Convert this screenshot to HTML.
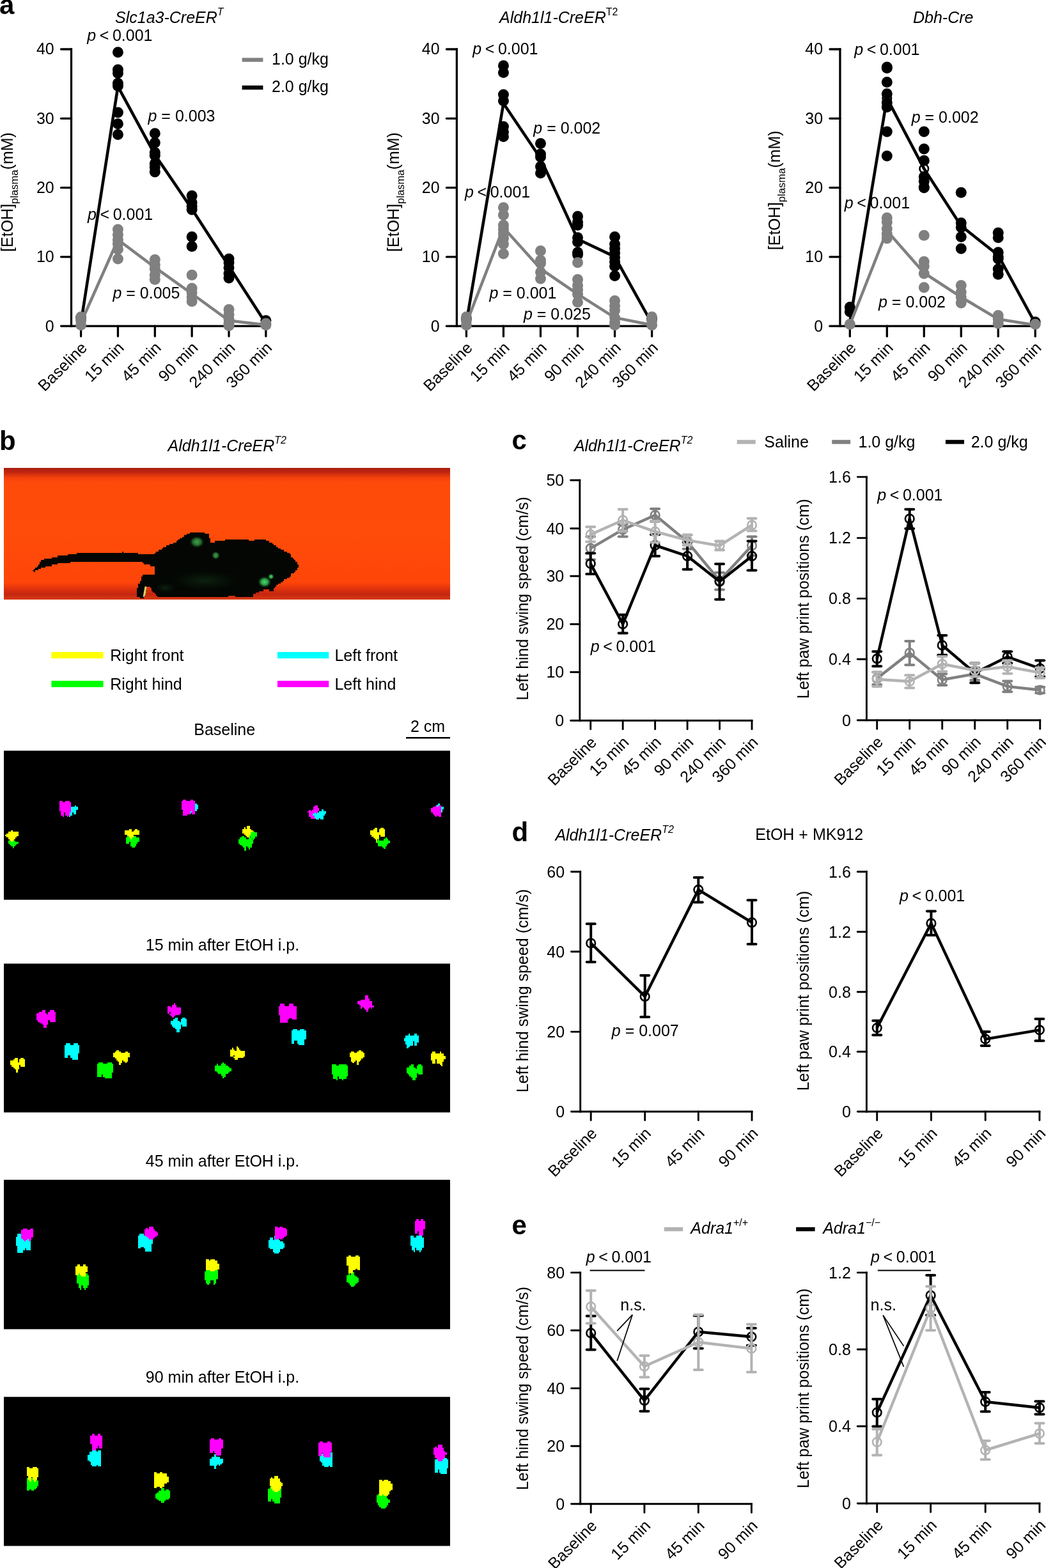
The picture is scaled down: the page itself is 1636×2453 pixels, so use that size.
<!DOCTYPE html>
<html lang="en"><head><meta charset="utf-8"><title>Figure</title>
<style>
html,body{margin:0;padding:0;background:#fff;}
svg{display:block;font-family:"Liberation Sans",sans-serif;}
</style></head><body>
<svg width="1636" height="2453" viewBox="0 0 1636 2453">
<rect width="1636" height="2453" fill="#fff"/>
<line x1="111.5" y1="75.35" x2="111.5" y2="511.75" stroke="#000" stroke-width="3.3" stroke-linecap="butt"/>
<line x1="111.5" y1="510.1" x2="417.5" y2="510.1" stroke="#000" stroke-width="3.3" stroke-linecap="butt"/>
<line x1="95.55" y1="77" x2="111.5" y2="77" stroke="#000" stroke-width="3.3" stroke-linecap="round"/>
<text x="84.7" y="85.4" font-size="25" text-anchor="end" fill="#000">40</text>
<line x1="95.55" y1="185.28" x2="111.5" y2="185.28" stroke="#000" stroke-width="3.3" stroke-linecap="round"/>
<text x="84.7" y="193.68" font-size="25" text-anchor="end" fill="#000">30</text>
<line x1="95.55" y1="293.55" x2="111.5" y2="293.55" stroke="#000" stroke-width="3.3" stroke-linecap="round"/>
<text x="84.7" y="301.95" font-size="25" text-anchor="end" fill="#000">20</text>
<line x1="95.55" y1="401.83" x2="111.5" y2="401.83" stroke="#000" stroke-width="3.3" stroke-linecap="round"/>
<text x="84.7" y="410.23" font-size="25" text-anchor="end" fill="#000">10</text>
<line x1="95.55" y1="510.1" x2="111.5" y2="510.1" stroke="#000" stroke-width="3.3" stroke-linecap="round"/>
<text x="84.7" y="518.5" font-size="25" text-anchor="end" fill="#000">0</text>
<line x1="126.6" y1="510.1" x2="126.6" y2="526.05" stroke="#000" stroke-width="3.3" stroke-linecap="round"/>
<text font-size="25" text-anchor="end" transform="translate(137.6,545.6) rotate(-45)" fill="#000">Baseline</text>
<line x1="184.45" y1="510.1" x2="184.45" y2="526.05" stroke="#000" stroke-width="3.3" stroke-linecap="round"/>
<text font-size="25" text-anchor="end" transform="translate(195.45,545.6) rotate(-45)" fill="#000">15 min</text>
<line x1="242.3" y1="510.1" x2="242.3" y2="526.05" stroke="#000" stroke-width="3.3" stroke-linecap="round"/>
<text font-size="25" text-anchor="end" transform="translate(253.3,545.6) rotate(-45)" fill="#000">45 min</text>
<line x1="300.15" y1="510.1" x2="300.15" y2="526.05" stroke="#000" stroke-width="3.3" stroke-linecap="round"/>
<text font-size="25" text-anchor="end" transform="translate(311.15,545.6) rotate(-45)" fill="#000">90 min</text>
<line x1="358" y1="510.1" x2="358" y2="526.05" stroke="#000" stroke-width="3.3" stroke-linecap="round"/>
<text font-size="25" text-anchor="end" transform="translate(369,545.6) rotate(-45)" fill="#000">240 min</text>
<line x1="415.85" y1="510.1" x2="415.85" y2="526.05" stroke="#000" stroke-width="3.3" stroke-linecap="round"/>
<text font-size="25" text-anchor="end" transform="translate(426.85,545.6) rotate(-45)" fill="#000">360 min</text>
<circle cx="126.6" cy="497" r="8.5" fill="#000" stroke="none" stroke-width="0"/>
<circle cx="184.45" cy="81.8" r="8.5" fill="#000" stroke="none" stroke-width="0"/>
<circle cx="184.45" cy="108.9" r="8.5" fill="#000" stroke="none" stroke-width="0"/>
<circle cx="184.45" cy="114.6" r="8.5" fill="#000" stroke="none" stroke-width="0"/>
<circle cx="184.45" cy="130.2" r="8.5" fill="#000" stroke="none" stroke-width="0"/>
<circle cx="184.45" cy="134.6" r="8.5" fill="#000" stroke="none" stroke-width="0"/>
<circle cx="184.45" cy="175.9" r="8.5" fill="#000" stroke="none" stroke-width="0"/>
<circle cx="184.45" cy="193.8" r="8.5" fill="#000" stroke="none" stroke-width="0"/>
<circle cx="184.45" cy="210.6" r="8.5" fill="#000" stroke="none" stroke-width="0"/>
<circle cx="242.3" cy="208.7" r="8.5" fill="#000" stroke="none" stroke-width="0"/>
<circle cx="242.3" cy="223.2" r="8.5" fill="#000" stroke="none" stroke-width="0"/>
<circle cx="242.3" cy="238.6" r="8.5" fill="#000" stroke="none" stroke-width="0"/>
<circle cx="242.3" cy="243.2" r="8.5" fill="#000" stroke="none" stroke-width="0"/>
<circle cx="242.3" cy="255.8" r="8.5" fill="#000" stroke="none" stroke-width="0"/>
<circle cx="242.3" cy="261.6" r="8.5" fill="#000" stroke="none" stroke-width="0"/>
<circle cx="242.3" cy="269.1" r="8.5" fill="#000" stroke="none" stroke-width="0"/>
<circle cx="300.15" cy="306.3" r="8.5" fill="#000" stroke="none" stroke-width="0"/>
<circle cx="300.15" cy="316.7" r="8.5" fill="#000" stroke="none" stroke-width="0"/>
<circle cx="300.15" cy="322.4" r="8.5" fill="#000" stroke="none" stroke-width="0"/>
<circle cx="300.15" cy="328.1" r="8.5" fill="#000" stroke="none" stroke-width="0"/>
<circle cx="300.15" cy="370.6" r="8.5" fill="#000" stroke="none" stroke-width="0"/>
<circle cx="300.15" cy="385.5" r="8.5" fill="#000" stroke="none" stroke-width="0"/>
<circle cx="358" cy="405" r="8.5" fill="#000" stroke="none" stroke-width="0"/>
<circle cx="358" cy="410.8" r="8.5" fill="#000" stroke="none" stroke-width="0"/>
<circle cx="358" cy="418.8" r="8.5" fill="#000" stroke="none" stroke-width="0"/>
<circle cx="358" cy="428" r="8.5" fill="#000" stroke="none" stroke-width="0"/>
<circle cx="358" cy="434.9" r="8.5" fill="#000" stroke="none" stroke-width="0"/>
<circle cx="415.85" cy="501.5" r="8.5" fill="#000" stroke="none" stroke-width="0"/>
<polyline points="126.6,505 184.45,135.3 242.3,242 300.15,327 358,416.5 415.85,506" fill="none" stroke="#000" stroke-width="4.6" stroke-linejoin="miter" stroke-linecap="butt"/>
<circle cx="126.6" cy="495.7" r="8.5" fill="#808080" stroke="none" stroke-width="0"/>
<circle cx="126.6" cy="501.5" r="8.5" fill="#808080" stroke="none" stroke-width="0"/>
<circle cx="126.6" cy="508.4" r="8.5" fill="#808080" stroke="none" stroke-width="0"/>
<circle cx="184.45" cy="359.1" r="8.5" fill="#808080" stroke="none" stroke-width="0"/>
<circle cx="184.45" cy="367.2" r="8.5" fill="#808080" stroke="none" stroke-width="0"/>
<circle cx="184.45" cy="375.2" r="8.5" fill="#808080" stroke="none" stroke-width="0"/>
<circle cx="184.45" cy="382.1" r="8.5" fill="#808080" stroke="none" stroke-width="0"/>
<circle cx="184.45" cy="390.1" r="8.5" fill="#808080" stroke="none" stroke-width="0"/>
<circle cx="184.45" cy="405" r="8.5" fill="#808080" stroke="none" stroke-width="0"/>
<circle cx="242.3" cy="406.2" r="8.5" fill="#808080" stroke="none" stroke-width="0"/>
<circle cx="242.3" cy="414.2" r="8.5" fill="#808080" stroke="none" stroke-width="0"/>
<circle cx="242.3" cy="421.1" r="8.5" fill="#808080" stroke="none" stroke-width="0"/>
<circle cx="242.3" cy="430.3" r="8.5" fill="#808080" stroke="none" stroke-width="0"/>
<circle cx="242.3" cy="437.2" r="8.5" fill="#808080" stroke="none" stroke-width="0"/>
<circle cx="300.15" cy="430.3" r="8.5" fill="#808080" stroke="none" stroke-width="0"/>
<circle cx="300.15" cy="451" r="8.5" fill="#808080" stroke="none" stroke-width="0"/>
<circle cx="300.15" cy="457.8" r="8.5" fill="#808080" stroke="none" stroke-width="0"/>
<circle cx="300.15" cy="464.7" r="8.5" fill="#808080" stroke="none" stroke-width="0"/>
<circle cx="300.15" cy="471.6" r="8.5" fill="#808080" stroke="none" stroke-width="0"/>
<circle cx="358" cy="484.3" r="8.5" fill="#808080" stroke="none" stroke-width="0"/>
<circle cx="358" cy="492.3" r="8.5" fill="#808080" stroke="none" stroke-width="0"/>
<circle cx="358" cy="499.2" r="8.5" fill="#808080" stroke="none" stroke-width="0"/>
<circle cx="358" cy="506.1" r="8.5" fill="#808080" stroke="none" stroke-width="0"/>
<circle cx="358" cy="509.5" r="8.5" fill="#808080" stroke="none" stroke-width="0"/>
<circle cx="415.85" cy="506" r="8.5" fill="#808080" stroke="none" stroke-width="0"/>
<circle cx="415.85" cy="508.4" r="8.5" fill="#808080" stroke="none" stroke-width="0"/>
<polyline points="126.6,505 184.45,375 242.3,418.3 300.15,459.5 358,501.5 415.85,508.4" fill="none" stroke="#808080" stroke-width="4.6" stroke-linejoin="miter" stroke-linecap="butt"/>
<text x="136.2" y="64.1" font-size="25" fill="#000"><tspan font-style="italic">p</tspan><tspan dx="5.6">&lt;</tspan><tspan dx="5.6">0.001</tspan></text>
<text x="231.5" y="190.3" font-size="25" fill="#000"><tspan font-style="italic">p</tspan> = 0.003</text>
<text x="137" y="344.1" font-size="25" fill="#000"><tspan font-style="italic">p</tspan><tspan dx="5.6">&lt;</tspan><tspan dx="5.6">0.001</tspan></text>
<text x="176.4" y="467" font-size="25" fill="#000"><tspan font-style="italic">p</tspan> = 0.005</text>
<text x="180" y="35.7" font-size="25" font-style="italic" fill="#000">Slc1a3-CreER<tspan font-size="16" dy="-12">T</tspan></text>
<line x1="378.6" y1="93.6" x2="411.4" y2="93.6" stroke="#808080" stroke-width="6.4" stroke-linecap="butt"/>
<text x="425" y="100.9" font-size="25" fill="#000">1.0 g/kg</text>
<line x1="378.6" y1="137" x2="411.4" y2="137" stroke="#000" stroke-width="6.4" stroke-linecap="butt"/>
<text x="425" y="144.4" font-size="25" fill="#000">2.0 g/kg</text>
<text font-size="25" text-anchor="middle" transform="translate(20.3,300.5) rotate(-90)" fill="#000">[EtOH]<tspan font-size="16.6" dy="8">plasma</tspan><tspan dy="-8">(mM)</tspan></text>
<text x="-1" y="22" font-size="42" font-weight="bold" fill="#000">a</text>
<line x1="714.4" y1="75.35" x2="714.4" y2="511.85" stroke="#000" stroke-width="3.3" stroke-linecap="butt"/>
<line x1="714.4" y1="510.2" x2="1021.25" y2="510.2" stroke="#000" stroke-width="3.3" stroke-linecap="butt"/>
<line x1="698.45" y1="77" x2="714.4" y2="77" stroke="#000" stroke-width="3.3" stroke-linecap="round"/>
<text x="687.6" y="85.4" font-size="25" text-anchor="end" fill="#000">40</text>
<line x1="698.45" y1="185.3" x2="714.4" y2="185.3" stroke="#000" stroke-width="3.3" stroke-linecap="round"/>
<text x="687.6" y="193.7" font-size="25" text-anchor="end" fill="#000">30</text>
<line x1="698.45" y1="293.6" x2="714.4" y2="293.6" stroke="#000" stroke-width="3.3" stroke-linecap="round"/>
<text x="687.6" y="302" font-size="25" text-anchor="end" fill="#000">20</text>
<line x1="698.45" y1="401.9" x2="714.4" y2="401.9" stroke="#000" stroke-width="3.3" stroke-linecap="round"/>
<text x="687.6" y="410.3" font-size="25" text-anchor="end" fill="#000">10</text>
<line x1="698.45" y1="510.2" x2="714.4" y2="510.2" stroke="#000" stroke-width="3.3" stroke-linecap="round"/>
<text x="687.6" y="518.6" font-size="25" text-anchor="end" fill="#000">0</text>
<line x1="729.4" y1="510.2" x2="729.4" y2="526.15" stroke="#000" stroke-width="3.3" stroke-linecap="round"/>
<text font-size="25" text-anchor="end" transform="translate(740.4,545.7) rotate(-45)" fill="#000">Baseline</text>
<line x1="787.44" y1="510.2" x2="787.44" y2="526.15" stroke="#000" stroke-width="3.3" stroke-linecap="round"/>
<text font-size="25" text-anchor="end" transform="translate(798.44,545.7) rotate(-45)" fill="#000">15 min</text>
<line x1="845.48" y1="510.2" x2="845.48" y2="526.15" stroke="#000" stroke-width="3.3" stroke-linecap="round"/>
<text font-size="25" text-anchor="end" transform="translate(856.48,545.7) rotate(-45)" fill="#000">45 min</text>
<line x1="903.52" y1="510.2" x2="903.52" y2="526.15" stroke="#000" stroke-width="3.3" stroke-linecap="round"/>
<text font-size="25" text-anchor="end" transform="translate(914.52,545.7) rotate(-45)" fill="#000">90 min</text>
<line x1="961.56" y1="510.2" x2="961.56" y2="526.15" stroke="#000" stroke-width="3.3" stroke-linecap="round"/>
<text font-size="25" text-anchor="end" transform="translate(972.56,545.7) rotate(-45)" fill="#000">240 min</text>
<line x1="1019.6" y1="510.2" x2="1019.6" y2="526.15" stroke="#000" stroke-width="3.3" stroke-linecap="round"/>
<text font-size="25" text-anchor="end" transform="translate(1030.6,545.7) rotate(-45)" fill="#000">360 min</text>
<circle cx="729.4" cy="499" r="8.5" fill="#000" stroke="none" stroke-width="0"/>
<circle cx="787.44" cy="102.7" r="8.5" fill="#000" stroke="none" stroke-width="0"/>
<circle cx="787.44" cy="113.5" r="8.5" fill="#000" stroke="none" stroke-width="0"/>
<circle cx="787.44" cy="147.9" r="8.5" fill="#000" stroke="none" stroke-width="0"/>
<circle cx="787.44" cy="157.8" r="8.5" fill="#000" stroke="none" stroke-width="0"/>
<circle cx="787.44" cy="198" r="8.5" fill="#000" stroke="none" stroke-width="0"/>
<circle cx="787.44" cy="206.5" r="8.5" fill="#000" stroke="none" stroke-width="0"/>
<circle cx="787.44" cy="213.8" r="8.5" fill="#000" stroke="none" stroke-width="0"/>
<circle cx="845.48" cy="224.4" r="8.5" fill="#000" stroke="none" stroke-width="0"/>
<circle cx="845.48" cy="240.9" r="8.5" fill="#000" stroke="none" stroke-width="0"/>
<circle cx="845.48" cy="245.5" r="8.5" fill="#000" stroke="none" stroke-width="0"/>
<circle cx="845.48" cy="260.4" r="8.5" fill="#000" stroke="none" stroke-width="0"/>
<circle cx="845.48" cy="270.7" r="8.5" fill="#000" stroke="none" stroke-width="0"/>
<circle cx="903.52" cy="338.5" r="8.5" fill="#000" stroke="none" stroke-width="0"/>
<circle cx="903.52" cy="347.6" r="8.5" fill="#000" stroke="none" stroke-width="0"/>
<circle cx="903.52" cy="352.2" r="8.5" fill="#000" stroke="none" stroke-width="0"/>
<circle cx="903.52" cy="371.8" r="8.5" fill="#000" stroke="none" stroke-width="0"/>
<circle cx="903.52" cy="378.6" r="8.5" fill="#000" stroke="none" stroke-width="0"/>
<circle cx="903.52" cy="394.7" r="8.5" fill="#000" stroke="none" stroke-width="0"/>
<circle cx="903.52" cy="398.2" r="8.5" fill="#000" stroke="none" stroke-width="0"/>
<circle cx="961.56" cy="370.6" r="8.5" fill="#000" stroke="none" stroke-width="0"/>
<circle cx="961.56" cy="382.1" r="8.5" fill="#000" stroke="none" stroke-width="0"/>
<circle cx="961.56" cy="389" r="8.5" fill="#000" stroke="none" stroke-width="0"/>
<circle cx="961.56" cy="395.9" r="8.5" fill="#000" stroke="none" stroke-width="0"/>
<circle cx="961.56" cy="402.8" r="8.5" fill="#000" stroke="none" stroke-width="0"/>
<circle cx="961.56" cy="409.6" r="8.5" fill="#000" stroke="none" stroke-width="0"/>
<circle cx="961.56" cy="416.5" r="8.5" fill="#000" stroke="none" stroke-width="0"/>
<circle cx="961.56" cy="431.5" r="8.5" fill="#000" stroke="none" stroke-width="0"/>
<circle cx="1019.6" cy="499" r="8.5" fill="#000" stroke="none" stroke-width="0"/>
<polyline points="729.4,505 787.44,161.7 845.48,247.8 903.52,374 961.56,401.6 1019.6,506" fill="none" stroke="#000" stroke-width="4.6" stroke-linejoin="miter" stroke-linecap="butt"/>
<circle cx="729.4" cy="495.7" r="8.5" fill="#808080" stroke="none" stroke-width="0"/>
<circle cx="729.4" cy="501.5" r="8.5" fill="#808080" stroke="none" stroke-width="0"/>
<circle cx="729.4" cy="508.4" r="8.5" fill="#808080" stroke="none" stroke-width="0"/>
<circle cx="787.44" cy="324.7" r="8.5" fill="#808080" stroke="none" stroke-width="0"/>
<circle cx="787.44" cy="336.2" r="8.5" fill="#808080" stroke="none" stroke-width="0"/>
<circle cx="787.44" cy="352.2" r="8.5" fill="#808080" stroke="none" stroke-width="0"/>
<circle cx="787.44" cy="359.1" r="8.5" fill="#808080" stroke="none" stroke-width="0"/>
<circle cx="787.44" cy="366" r="8.5" fill="#808080" stroke="none" stroke-width="0"/>
<circle cx="787.44" cy="372.9" r="8.5" fill="#808080" stroke="none" stroke-width="0"/>
<circle cx="787.44" cy="382.1" r="8.5" fill="#808080" stroke="none" stroke-width="0"/>
<circle cx="787.44" cy="397" r="8.5" fill="#808080" stroke="none" stroke-width="0"/>
<circle cx="845.48" cy="392.4" r="8.5" fill="#808080" stroke="none" stroke-width="0"/>
<circle cx="845.48" cy="407.3" r="8.5" fill="#808080" stroke="none" stroke-width="0"/>
<circle cx="845.48" cy="411.9" r="8.5" fill="#808080" stroke="none" stroke-width="0"/>
<circle cx="845.48" cy="425.7" r="8.5" fill="#808080" stroke="none" stroke-width="0"/>
<circle cx="845.48" cy="436" r="8.5" fill="#808080" stroke="none" stroke-width="0"/>
<circle cx="903.52" cy="410.8" r="8.5" fill="#808080" stroke="none" stroke-width="0"/>
<circle cx="903.52" cy="437.2" r="8.5" fill="#808080" stroke="none" stroke-width="0"/>
<circle cx="903.52" cy="446.4" r="8.5" fill="#808080" stroke="none" stroke-width="0"/>
<circle cx="903.52" cy="453.3" r="8.5" fill="#808080" stroke="none" stroke-width="0"/>
<circle cx="903.52" cy="460.2" r="8.5" fill="#808080" stroke="none" stroke-width="0"/>
<circle cx="903.52" cy="472.8" r="8.5" fill="#808080" stroke="none" stroke-width="0"/>
<circle cx="961.56" cy="470.5" r="8.5" fill="#808080" stroke="none" stroke-width="0"/>
<circle cx="961.56" cy="478.5" r="8.5" fill="#808080" stroke="none" stroke-width="0"/>
<circle cx="961.56" cy="485.4" r="8.5" fill="#808080" stroke="none" stroke-width="0"/>
<circle cx="961.56" cy="496.9" r="8.5" fill="#808080" stroke="none" stroke-width="0"/>
<circle cx="961.56" cy="503.8" r="8.5" fill="#808080" stroke="none" stroke-width="0"/>
<circle cx="961.56" cy="508.4" r="8.5" fill="#808080" stroke="none" stroke-width="0"/>
<circle cx="1019.6" cy="495.7" r="8.5" fill="#808080" stroke="none" stroke-width="0"/>
<circle cx="1019.6" cy="501.5" r="8.5" fill="#808080" stroke="none" stroke-width="0"/>
<circle cx="1019.6" cy="508.4" r="8.5" fill="#808080" stroke="none" stroke-width="0"/>
<polyline points="729.4,506 787.44,356 845.48,420.5 903.52,460.2 961.56,496.9 1019.6,508.4" fill="none" stroke="#808080" stroke-width="4.6" stroke-linejoin="miter" stroke-linecap="butt"/>
<text x="739.2" y="84.7" font-size="25" fill="#000"><tspan font-style="italic">p</tspan><tspan dx="5.6">&lt;</tspan><tspan dx="5.6">0.001</tspan></text>
<text x="834.3" y="208.7" font-size="25" fill="#000"><tspan font-style="italic">p</tspan> = 0.002</text>
<text x="727" y="308.6" font-size="25" fill="#000"><tspan font-style="italic">p</tspan><tspan dx="5.6">&lt;</tspan><tspan dx="5.6">0.001</tspan></text>
<text x="765.4" y="467" font-size="25" fill="#000"><tspan font-style="italic">p</tspan> = 0.001</text>
<text x="818.9" y="500.3" font-size="25" fill="#000"><tspan font-style="italic">p</tspan> = 0.025</text>
<text x="781" y="35.7" font-size="25" font-style="italic" fill="#000">Aldh1l1-CreER<tspan font-size="16" dy="-12" font-style="normal">T2</tspan></text>
<text font-size="25" text-anchor="middle" transform="translate(624,300.5) rotate(-90)" fill="#000">[EtOH]<tspan font-size="16.6" dy="8">plasma</tspan><tspan dy="-8">(mM)</tspan></text>
<line x1="1313.9" y1="75.35" x2="1313.9" y2="511.85" stroke="#000" stroke-width="3.3" stroke-linecap="butt"/>
<line x1="1313.9" y1="510.2" x2="1620.85" y2="510.2" stroke="#000" stroke-width="3.3" stroke-linecap="butt"/>
<line x1="1297.95" y1="77" x2="1313.9" y2="77" stroke="#000" stroke-width="3.3" stroke-linecap="round"/>
<text x="1287.1" y="85.4" font-size="25" text-anchor="end" fill="#000">40</text>
<line x1="1297.95" y1="185.3" x2="1313.9" y2="185.3" stroke="#000" stroke-width="3.3" stroke-linecap="round"/>
<text x="1287.1" y="193.7" font-size="25" text-anchor="end" fill="#000">30</text>
<line x1="1297.95" y1="293.6" x2="1313.9" y2="293.6" stroke="#000" stroke-width="3.3" stroke-linecap="round"/>
<text x="1287.1" y="302" font-size="25" text-anchor="end" fill="#000">20</text>
<line x1="1297.95" y1="401.9" x2="1313.9" y2="401.9" stroke="#000" stroke-width="3.3" stroke-linecap="round"/>
<text x="1287.1" y="410.3" font-size="25" text-anchor="end" fill="#000">10</text>
<line x1="1297.95" y1="510.2" x2="1313.9" y2="510.2" stroke="#000" stroke-width="3.3" stroke-linecap="round"/>
<text x="1287.1" y="518.6" font-size="25" text-anchor="end" fill="#000">0</text>
<line x1="1329.3" y1="510.2" x2="1329.3" y2="526.15" stroke="#000" stroke-width="3.3" stroke-linecap="round"/>
<text font-size="25" text-anchor="end" transform="translate(1340.3,545.7) rotate(-45)" fill="#000">Baseline</text>
<line x1="1387.28" y1="510.2" x2="1387.28" y2="526.15" stroke="#000" stroke-width="3.3" stroke-linecap="round"/>
<text font-size="25" text-anchor="end" transform="translate(1398.28,545.7) rotate(-45)" fill="#000">15 min</text>
<line x1="1445.26" y1="510.2" x2="1445.26" y2="526.15" stroke="#000" stroke-width="3.3" stroke-linecap="round"/>
<text font-size="25" text-anchor="end" transform="translate(1456.26,545.7) rotate(-45)" fill="#000">45 min</text>
<line x1="1503.24" y1="510.2" x2="1503.24" y2="526.15" stroke="#000" stroke-width="3.3" stroke-linecap="round"/>
<text font-size="25" text-anchor="end" transform="translate(1514.24,545.7) rotate(-45)" fill="#000">90 min</text>
<line x1="1561.22" y1="510.2" x2="1561.22" y2="526.15" stroke="#000" stroke-width="3.3" stroke-linecap="round"/>
<text font-size="25" text-anchor="end" transform="translate(1572.22,545.7) rotate(-45)" fill="#000">240 min</text>
<line x1="1619.2" y1="510.2" x2="1619.2" y2="526.15" stroke="#000" stroke-width="3.3" stroke-linecap="round"/>
<text font-size="25" text-anchor="end" transform="translate(1630.2,545.7) rotate(-45)" fill="#000">360 min</text>
<circle cx="1387.28" cy="153.6" r="6.8" fill="#fff" stroke="#000" stroke-width="2.6"/>
<circle cx="1445.26" cy="263.9" r="6.8" fill="#fff" stroke="#000" stroke-width="2.6"/>
<circle cx="1329.3" cy="480.4" r="8.5" fill="#000" stroke="none" stroke-width="0"/>
<circle cx="1329.3" cy="487.7" r="8.5" fill="#000" stroke="none" stroke-width="0"/>
<circle cx="1387.28" cy="105" r="8.5" fill="#000" stroke="none" stroke-width="0"/>
<circle cx="1387.28" cy="106.6" r="8.5" fill="#000" stroke="none" stroke-width="0"/>
<circle cx="1387.28" cy="128.4" r="8.5" fill="#000" stroke="none" stroke-width="0"/>
<circle cx="1387.28" cy="146.8" r="8.5" fill="#000" stroke="none" stroke-width="0"/>
<circle cx="1387.28" cy="160.5" r="8.5" fill="#000" stroke="none" stroke-width="0"/>
<circle cx="1387.28" cy="167.4" r="8.5" fill="#000" stroke="none" stroke-width="0"/>
<circle cx="1387.28" cy="206" r="8.5" fill="#000" stroke="none" stroke-width="0"/>
<circle cx="1387.28" cy="243.9" r="8.5" fill="#000" stroke="none" stroke-width="0"/>
<circle cx="1445.26" cy="206" r="8.5" fill="#000" stroke="none" stroke-width="0"/>
<circle cx="1445.26" cy="232.9" r="8.5" fill="#000" stroke="none" stroke-width="0"/>
<circle cx="1445.26" cy="251.2" r="8.5" fill="#000" stroke="none" stroke-width="0"/>
<circle cx="1445.26" cy="276.5" r="8.5" fill="#000" stroke="none" stroke-width="0"/>
<circle cx="1445.26" cy="283.4" r="8.5" fill="#000" stroke="none" stroke-width="0"/>
<circle cx="1445.26" cy="292.5" r="8.5" fill="#000" stroke="none" stroke-width="0"/>
<circle cx="1445.26" cy="293.7" r="8.5" fill="#000" stroke="none" stroke-width="0"/>
<circle cx="1503.24" cy="301.3" r="8.5" fill="#000" stroke="none" stroke-width="0"/>
<circle cx="1503.24" cy="348.8" r="8.5" fill="#000" stroke="none" stroke-width="0"/>
<circle cx="1503.24" cy="355.7" r="8.5" fill="#000" stroke="none" stroke-width="0"/>
<circle cx="1503.24" cy="370.6" r="8.5" fill="#000" stroke="none" stroke-width="0"/>
<circle cx="1503.24" cy="389" r="8.5" fill="#000" stroke="none" stroke-width="0"/>
<circle cx="1561.22" cy="364.2" r="8.5" fill="#000" stroke="none" stroke-width="0"/>
<circle cx="1561.22" cy="371.8" r="8.5" fill="#000" stroke="none" stroke-width="0"/>
<circle cx="1561.22" cy="394.7" r="8.5" fill="#000" stroke="none" stroke-width="0"/>
<circle cx="1561.22" cy="401.6" r="8.5" fill="#000" stroke="none" stroke-width="0"/>
<circle cx="1561.22" cy="405" r="8.5" fill="#000" stroke="none" stroke-width="0"/>
<circle cx="1561.22" cy="421.1" r="8.5" fill="#000" stroke="none" stroke-width="0"/>
<circle cx="1561.22" cy="429.2" r="8.5" fill="#000" stroke="none" stroke-width="0"/>
<circle cx="1619.2" cy="503.8" r="8.5" fill="#000" stroke="none" stroke-width="0"/>
<polyline points="1329.3,503 1387.28,153.6 1445.26,263.9 1503.24,353.4 1561.22,399.3 1619.2,506" fill="none" stroke="#000" stroke-width="4.6" stroke-linejoin="miter" stroke-linecap="butt"/>
<circle cx="1329.3" cy="507.2" r="8.5" fill="#808080" stroke="none" stroke-width="0"/>
<circle cx="1387.28" cy="340.8" r="8.5" fill="#808080" stroke="none" stroke-width="0"/>
<circle cx="1387.28" cy="347.6" r="8.5" fill="#808080" stroke="none" stroke-width="0"/>
<circle cx="1387.28" cy="358" r="8.5" fill="#808080" stroke="none" stroke-width="0"/>
<circle cx="1387.28" cy="366" r="8.5" fill="#808080" stroke="none" stroke-width="0"/>
<circle cx="1387.28" cy="372.9" r="8.5" fill="#808080" stroke="none" stroke-width="0"/>
<circle cx="1445.26" cy="368.3" r="8.5" fill="#808080" stroke="none" stroke-width="0"/>
<circle cx="1445.26" cy="409.2" r="8.5" fill="#808080" stroke="none" stroke-width="0"/>
<circle cx="1445.26" cy="416.5" r="8.5" fill="#808080" stroke="none" stroke-width="0"/>
<circle cx="1445.26" cy="428" r="8.5" fill="#808080" stroke="none" stroke-width="0"/>
<circle cx="1445.26" cy="449.8" r="8.5" fill="#808080" stroke="none" stroke-width="0"/>
<circle cx="1503.24" cy="446.4" r="8.5" fill="#808080" stroke="none" stroke-width="0"/>
<circle cx="1503.24" cy="456.7" r="8.5" fill="#808080" stroke="none" stroke-width="0"/>
<circle cx="1503.24" cy="464.7" r="8.5" fill="#808080" stroke="none" stroke-width="0"/>
<circle cx="1503.24" cy="473.9" r="8.5" fill="#808080" stroke="none" stroke-width="0"/>
<circle cx="1561.22" cy="493.4" r="8.5" fill="#808080" stroke="none" stroke-width="0"/>
<circle cx="1561.22" cy="499.2" r="8.5" fill="#808080" stroke="none" stroke-width="0"/>
<circle cx="1561.22" cy="506.1" r="8.5" fill="#808080" stroke="none" stroke-width="0"/>
<circle cx="1619.2" cy="507.2" r="8.5" fill="#808080" stroke="none" stroke-width="0"/>
<polyline points="1329.3,508 1387.28,361 1445.26,427 1503.24,464.7 1561.22,499.2 1619.2,508.4" fill="none" stroke="#808080" stroke-width="4.6" stroke-linejoin="miter" stroke-linecap="butt"/>
<text x="1336.2" y="85.9" font-size="25" fill="#000"><tspan font-style="italic">p</tspan><tspan dx="5.6">&lt;</tspan><tspan dx="5.6">0.001</tspan></text>
<text x="1425.7" y="191.5" font-size="25" fill="#000"><tspan font-style="italic">p</tspan> = 0.002</text>
<text x="1320.8" y="325.8" font-size="25" fill="#000"><tspan font-style="italic">p</tspan><tspan dx="5.6">&lt;</tspan><tspan dx="5.6">0.001</tspan></text>
<text x="1374" y="480.8" font-size="25" fill="#000"><tspan font-style="italic">p</tspan> = 0.002</text>
<text x="1428" y="35.7" font-size="25" font-style="italic" fill="#000">Dbh-Cre</text>
<text font-size="25" text-anchor="middle" transform="translate(1219.8,297.8) rotate(-90)" fill="#000">[EtOH]<tspan font-size="16.6" dy="8">plasma</tspan><tspan dy="-8">(mM)</tspan></text>
<line x1="906.8" y1="749.75" x2="906.8" y2="1128.65" stroke="#000" stroke-width="2.9" stroke-linecap="butt"/>
<line x1="906.8" y1="1127.2" x2="1177.45" y2="1127.2" stroke="#000" stroke-width="2.9" stroke-linecap="butt"/>
<line x1="892.65" y1="751.2" x2="906.8" y2="751.2" stroke="#000" stroke-width="2.9" stroke-linecap="round"/>
<text x="882.2" y="760" font-size="25" text-anchor="end" fill="#000">50</text>
<line x1="892.65" y1="826.7" x2="906.8" y2="826.7" stroke="#000" stroke-width="2.9" stroke-linecap="round"/>
<text x="882.2" y="835.5" font-size="25" text-anchor="end" fill="#000">40</text>
<line x1="892.65" y1="901.3" x2="906.8" y2="901.3" stroke="#000" stroke-width="2.9" stroke-linecap="round"/>
<text x="882.2" y="910.1" font-size="25" text-anchor="end" fill="#000">30</text>
<line x1="892.65" y1="976.5" x2="906.8" y2="976.5" stroke="#000" stroke-width="2.9" stroke-linecap="round"/>
<text x="882.2" y="985.3" font-size="25" text-anchor="end" fill="#000">20</text>
<line x1="892.65" y1="1051.5" x2="906.8" y2="1051.5" stroke="#000" stroke-width="2.9" stroke-linecap="round"/>
<text x="882.2" y="1060.3" font-size="25" text-anchor="end" fill="#000">10</text>
<line x1="892.65" y1="1127.2" x2="906.8" y2="1127.2" stroke="#000" stroke-width="2.9" stroke-linecap="round"/>
<text x="882.2" y="1136" font-size="25" text-anchor="end" fill="#000">0</text>
<line x1="923.7" y1="1127.2" x2="923.7" y2="1140.75" stroke="#000" stroke-width="2.9" stroke-linecap="round"/>
<text font-size="25" text-anchor="end" transform="translate(934.7,1162.8) rotate(-45)" fill="#000">Baseline</text>
<line x1="974.16" y1="1127.2" x2="974.16" y2="1140.75" stroke="#000" stroke-width="2.9" stroke-linecap="round"/>
<text font-size="25" text-anchor="end" transform="translate(985.16,1162.8) rotate(-45)" fill="#000">15 min</text>
<line x1="1024.62" y1="1127.2" x2="1024.62" y2="1140.75" stroke="#000" stroke-width="2.9" stroke-linecap="round"/>
<text font-size="25" text-anchor="end" transform="translate(1035.62,1162.8) rotate(-45)" fill="#000">45 min</text>
<line x1="1075.08" y1="1127.2" x2="1075.08" y2="1140.75" stroke="#000" stroke-width="2.9" stroke-linecap="round"/>
<text font-size="25" text-anchor="end" transform="translate(1086.08,1162.8) rotate(-45)" fill="#000">90 min</text>
<line x1="1125.54" y1="1127.2" x2="1125.54" y2="1140.75" stroke="#000" stroke-width="2.9" stroke-linecap="round"/>
<text font-size="25" text-anchor="end" transform="translate(1136.54,1162.8) rotate(-45)" fill="#000">240 min</text>
<line x1="1176" y1="1127.2" x2="1176" y2="1140.75" stroke="#000" stroke-width="2.9" stroke-linecap="round"/>
<text font-size="25" text-anchor="end" transform="translate(1187,1162.8) rotate(-45)" fill="#000">360 min</text>
<line x1="923.7" y1="839.6" x2="923.7" y2="875.5" stroke="#808080" stroke-width="4" stroke-linecap="butt"/>
<line x1="917.2" y1="839.6" x2="930.2" y2="839.6" stroke="#808080" stroke-width="4" stroke-linecap="round"/>
<line x1="917.2" y1="875.5" x2="930.2" y2="875.5" stroke="#808080" stroke-width="4" stroke-linecap="round"/>
<line x1="974.16" y1="820.5" x2="974.16" y2="839.6" stroke="#808080" stroke-width="4" stroke-linecap="butt"/>
<line x1="967.66" y1="820.5" x2="980.66" y2="820.5" stroke="#808080" stroke-width="4" stroke-linecap="round"/>
<line x1="967.66" y1="839.6" x2="980.66" y2="839.6" stroke="#808080" stroke-width="4" stroke-linecap="round"/>
<line x1="1024.62" y1="796.1" x2="1024.62" y2="815.7" stroke="#808080" stroke-width="4" stroke-linecap="butt"/>
<line x1="1018.12" y1="796.1" x2="1031.12" y2="796.1" stroke="#808080" stroke-width="4" stroke-linecap="round"/>
<line x1="1018.12" y1="815.7" x2="1031.12" y2="815.7" stroke="#808080" stroke-width="4" stroke-linecap="round"/>
<line x1="1075.08" y1="836.8" x2="1075.08" y2="858.7" stroke="#808080" stroke-width="4" stroke-linecap="butt"/>
<line x1="1068.58" y1="836.8" x2="1081.58" y2="836.8" stroke="#808080" stroke-width="4" stroke-linecap="round"/>
<line x1="1068.58" y1="858.7" x2="1081.58" y2="858.7" stroke="#808080" stroke-width="4" stroke-linecap="round"/>
<line x1="1125.54" y1="895.7" x2="1125.54" y2="922.4" stroke="#808080" stroke-width="4" stroke-linecap="butt"/>
<line x1="1119.04" y1="895.7" x2="1132.04" y2="895.7" stroke="#808080" stroke-width="4" stroke-linecap="round"/>
<line x1="1119.04" y1="922.4" x2="1132.04" y2="922.4" stroke="#808080" stroke-width="4" stroke-linecap="round"/>
<line x1="1176" y1="839.6" x2="1176" y2="869" stroke="#808080" stroke-width="4" stroke-linecap="butt"/>
<line x1="1169.5" y1="839.6" x2="1182.5" y2="839.6" stroke="#808080" stroke-width="4" stroke-linecap="round"/>
<line x1="1169.5" y1="869" x2="1182.5" y2="869" stroke="#808080" stroke-width="4" stroke-linecap="round"/>
<polyline points="923.7,857.8 974.16,828.4 1024.62,805.9 1075.08,847.5 1125.54,908.3 1176,853.6" fill="none" stroke="#808080" stroke-width="4.4" stroke-linejoin="miter" stroke-linecap="butt"/>
<circle cx="923.7" cy="857.8" r="6.8" fill="none" stroke="#808080" stroke-width="2.6"/>
<circle cx="974.16" cy="828.4" r="6.8" fill="none" stroke="#808080" stroke-width="2.6"/>
<circle cx="1024.62" cy="805.9" r="6.8" fill="none" stroke="#808080" stroke-width="2.6"/>
<circle cx="1075.08" cy="847.5" r="6.8" fill="none" stroke="#808080" stroke-width="2.6"/>
<circle cx="1125.54" cy="908.3" r="6.8" fill="none" stroke="#808080" stroke-width="2.6"/>
<circle cx="1176" cy="853.6" r="6.8" fill="none" stroke="#808080" stroke-width="2.6"/>
<line x1="923.7" y1="865.4" x2="923.7" y2="898" stroke="#000" stroke-width="4" stroke-linecap="butt"/>
<line x1="917.2" y1="865.4" x2="930.2" y2="865.4" stroke="#000" stroke-width="4" stroke-linecap="round"/>
<line x1="917.2" y1="898" x2="930.2" y2="898" stroke="#000" stroke-width="4" stroke-linecap="round"/>
<line x1="974.16" y1="961.7" x2="974.16" y2="990.6" stroke="#000" stroke-width="4" stroke-linecap="butt"/>
<line x1="967.66" y1="961.7" x2="980.66" y2="961.7" stroke="#000" stroke-width="4" stroke-linecap="round"/>
<line x1="967.66" y1="990.6" x2="980.66" y2="990.6" stroke="#000" stroke-width="4" stroke-linecap="round"/>
<line x1="1024.62" y1="836.2" x2="1024.62" y2="869.9" stroke="#000" stroke-width="4" stroke-linecap="butt"/>
<line x1="1018.12" y1="836.2" x2="1031.12" y2="836.2" stroke="#000" stroke-width="4" stroke-linecap="round"/>
<line x1="1018.12" y1="869.9" x2="1031.12" y2="869.9" stroke="#000" stroke-width="4" stroke-linecap="round"/>
<line x1="1075.08" y1="848" x2="1075.08" y2="890.7" stroke="#000" stroke-width="4" stroke-linecap="butt"/>
<line x1="1068.58" y1="848" x2="1081.58" y2="848" stroke="#000" stroke-width="4" stroke-linecap="round"/>
<line x1="1068.58" y1="890.7" x2="1081.58" y2="890.7" stroke="#000" stroke-width="4" stroke-linecap="round"/>
<line x1="1125.54" y1="882.2" x2="1125.54" y2="937.8" stroke="#000" stroke-width="4" stroke-linecap="butt"/>
<line x1="1119.04" y1="882.2" x2="1132.04" y2="882.2" stroke="#000" stroke-width="4" stroke-linecap="round"/>
<line x1="1119.04" y1="937.8" x2="1132.04" y2="937.8" stroke="#000" stroke-width="4" stroke-linecap="round"/>
<line x1="1176" y1="846.6" x2="1176" y2="892.3" stroke="#000" stroke-width="4" stroke-linecap="butt"/>
<line x1="1169.5" y1="846.6" x2="1182.5" y2="846.6" stroke="#000" stroke-width="4" stroke-linecap="round"/>
<line x1="1169.5" y1="892.3" x2="1182.5" y2="892.3" stroke="#000" stroke-width="4" stroke-linecap="round"/>
<polyline points="923.7,881.7 974.16,976.3 1024.62,853.1 1075.08,869.9 1125.54,909.7 1176,869.9" fill="none" stroke="#000" stroke-width="4.4" stroke-linejoin="miter" stroke-linecap="butt"/>
<circle cx="923.7" cy="881.7" r="6.8" fill="none" stroke="#000" stroke-width="2.6"/>
<circle cx="974.16" cy="976.3" r="6.8" fill="none" stroke="#000" stroke-width="2.6"/>
<circle cx="1024.62" cy="853.1" r="6.8" fill="none" stroke="#000" stroke-width="2.6"/>
<circle cx="1075.08" cy="869.9" r="6.8" fill="none" stroke="#000" stroke-width="2.6"/>
<circle cx="1125.54" cy="909.7" r="6.8" fill="none" stroke="#000" stroke-width="2.6"/>
<circle cx="1176" cy="869.9" r="6.8" fill="none" stroke="#000" stroke-width="2.6"/>
<line x1="923.7" y1="824.2" x2="923.7" y2="847.4" stroke="#b3b3b3" stroke-width="4" stroke-linecap="butt"/>
<line x1="917.2" y1="824.2" x2="930.2" y2="824.2" stroke="#b3b3b3" stroke-width="4" stroke-linecap="round"/>
<line x1="917.2" y1="847.4" x2="930.2" y2="847.4" stroke="#b3b3b3" stroke-width="4" stroke-linecap="round"/>
<line x1="974.16" y1="796.7" x2="974.16" y2="831.2" stroke="#b3b3b3" stroke-width="4" stroke-linecap="butt"/>
<line x1="967.66" y1="796.7" x2="980.66" y2="796.7" stroke="#b3b3b3" stroke-width="4" stroke-linecap="round"/>
<line x1="967.66" y1="831.2" x2="980.66" y2="831.2" stroke="#b3b3b3" stroke-width="4" stroke-linecap="round"/>
<line x1="1024.62" y1="814.9" x2="1024.62" y2="848.6" stroke="#b3b3b3" stroke-width="4" stroke-linecap="butt"/>
<line x1="1018.12" y1="814.9" x2="1031.12" y2="814.9" stroke="#b3b3b3" stroke-width="4" stroke-linecap="round"/>
<line x1="1018.12" y1="848.6" x2="1031.12" y2="848.6" stroke="#b3b3b3" stroke-width="4" stroke-linecap="round"/>
<line x1="1075.08" y1="836.8" x2="1075.08" y2="853.1" stroke="#b3b3b3" stroke-width="4" stroke-linecap="butt"/>
<line x1="1068.58" y1="836.8" x2="1081.58" y2="836.8" stroke="#b3b3b3" stroke-width="4" stroke-linecap="round"/>
<line x1="1068.58" y1="853.1" x2="1081.58" y2="853.1" stroke="#b3b3b3" stroke-width="4" stroke-linecap="round"/>
<line x1="1125.54" y1="846.6" x2="1125.54" y2="860.6" stroke="#b3b3b3" stroke-width="4" stroke-linecap="butt"/>
<line x1="1119.04" y1="846.6" x2="1132.04" y2="846.6" stroke="#b3b3b3" stroke-width="4" stroke-linecap="round"/>
<line x1="1119.04" y1="860.6" x2="1132.04" y2="860.6" stroke="#b3b3b3" stroke-width="4" stroke-linecap="round"/>
<line x1="1176" y1="811" x2="1176" y2="830.6" stroke="#b3b3b3" stroke-width="4" stroke-linecap="butt"/>
<line x1="1169.5" y1="811" x2="1182.5" y2="811" stroke="#b3b3b3" stroke-width="4" stroke-linecap="round"/>
<line x1="1169.5" y1="830.6" x2="1182.5" y2="830.6" stroke="#b3b3b3" stroke-width="4" stroke-linecap="round"/>
<polyline points="923.7,836.2 974.16,813.8 1024.62,831.7 1075.08,845.2 1125.54,853.6 1176,821.4" fill="none" stroke="#b3b3b3" stroke-width="4.4" stroke-linejoin="miter" stroke-linecap="butt"/>
<circle cx="923.7" cy="836.2" r="6.8" fill="none" stroke="#b3b3b3" stroke-width="2.6"/>
<circle cx="974.16" cy="813.8" r="6.8" fill="none" stroke="#b3b3b3" stroke-width="2.6"/>
<circle cx="1024.62" cy="831.7" r="6.8" fill="none" stroke="#b3b3b3" stroke-width="2.6"/>
<circle cx="1075.08" cy="845.2" r="6.8" fill="none" stroke="#b3b3b3" stroke-width="2.6"/>
<circle cx="1125.54" cy="853.6" r="6.8" fill="none" stroke="#b3b3b3" stroke-width="2.6"/>
<circle cx="1176" cy="821.4" r="6.8" fill="none" stroke="#b3b3b3" stroke-width="2.6"/>
<text x="923.7" y="1019.9" font-size="25" fill="#000"><tspan font-style="italic">p</tspan><tspan dx="5.6">&lt;</tspan><tspan dx="5.6">0.001</tspan></text>
<text font-size="25" text-anchor="middle" transform="translate(826.2,936.4) rotate(-90)" fill="#000">Left hind swing speed (cm/s)</text>
<text x="897.9" y="706.3" font-size="25" font-style="italic" fill="#000">Aldh1l1-CreER<tspan font-size="16" dy="-12">T2</tspan></text>
<text x="800.5" y="703.3" font-size="42" font-weight="bold" fill="#000">c</text>
<line x1="1152.7" y1="691.4" x2="1181.8" y2="691.4" stroke="#b3b3b3" stroke-width="6.4" stroke-linecap="butt"/>
<text x="1195.3" y="699.7" font-size="25" fill="#000">Saline</text>
<line x1="1301.2" y1="691.4" x2="1330.1" y2="691.4" stroke="#808080" stroke-width="6.4" stroke-linecap="butt"/>
<text x="1342.5" y="699.7" font-size="25" fill="#000">1.0 g/kg</text>
<line x1="1478.9" y1="691.4" x2="1508" y2="691.4" stroke="#000" stroke-width="6.4" stroke-linecap="butt"/>
<text x="1518.7" y="699.7" font-size="25" fill="#000">2.0 g/kg</text>
<line x1="1355.4" y1="744.65" x2="1355.4" y2="1128.15" stroke="#000" stroke-width="2.9" stroke-linecap="butt"/>
<line x1="1355.4" y1="1126.7" x2="1628.15" y2="1126.7" stroke="#000" stroke-width="2.9" stroke-linecap="butt"/>
<line x1="1341.25" y1="746.1" x2="1355.4" y2="746.1" stroke="#000" stroke-width="2.9" stroke-linecap="round"/>
<text x="1330.8" y="754.9" font-size="25" text-anchor="end" fill="#000">1.6</text>
<line x1="1341.25" y1="841.6" x2="1355.4" y2="841.6" stroke="#000" stroke-width="2.9" stroke-linecap="round"/>
<text x="1330.8" y="850.4" font-size="25" text-anchor="end" fill="#000">1.2</text>
<line x1="1341.25" y1="936.4" x2="1355.4" y2="936.4" stroke="#000" stroke-width="2.9" stroke-linecap="round"/>
<text x="1330.8" y="945.2" font-size="25" text-anchor="end" fill="#000">0.8</text>
<line x1="1341.25" y1="1031.3" x2="1355.4" y2="1031.3" stroke="#000" stroke-width="2.9" stroke-linecap="round"/>
<text x="1330.8" y="1040.1" font-size="25" text-anchor="end" fill="#000">0.4</text>
<line x1="1341.25" y1="1126.7" x2="1355.4" y2="1126.7" stroke="#000" stroke-width="2.9" stroke-linecap="round"/>
<text x="1330.8" y="1135.5" font-size="25" text-anchor="end" fill="#000">0</text>
<line x1="1371.7" y1="1126.7" x2="1371.7" y2="1140.25" stroke="#000" stroke-width="2.9" stroke-linecap="round"/>
<text font-size="25" text-anchor="end" transform="translate(1382.7,1162.3) rotate(-45)" fill="#000">Baseline</text>
<line x1="1422.7" y1="1126.7" x2="1422.7" y2="1140.25" stroke="#000" stroke-width="2.9" stroke-linecap="round"/>
<text font-size="25" text-anchor="end" transform="translate(1433.7,1162.3) rotate(-45)" fill="#000">15 min</text>
<line x1="1473.7" y1="1126.7" x2="1473.7" y2="1140.25" stroke="#000" stroke-width="2.9" stroke-linecap="round"/>
<text font-size="25" text-anchor="end" transform="translate(1484.7,1162.3) rotate(-45)" fill="#000">45 min</text>
<line x1="1524.7" y1="1126.7" x2="1524.7" y2="1140.25" stroke="#000" stroke-width="2.9" stroke-linecap="round"/>
<text font-size="25" text-anchor="end" transform="translate(1535.7,1162.3) rotate(-45)" fill="#000">90 min</text>
<line x1="1575.7" y1="1126.7" x2="1575.7" y2="1140.25" stroke="#000" stroke-width="2.9" stroke-linecap="round"/>
<text font-size="25" text-anchor="end" transform="translate(1586.7,1162.3) rotate(-45)" fill="#000">240 min</text>
<line x1="1626.7" y1="1126.7" x2="1626.7" y2="1140.25" stroke="#000" stroke-width="2.9" stroke-linecap="round"/>
<text font-size="25" text-anchor="end" transform="translate(1637.7,1162.3) rotate(-45)" fill="#000">360 min</text>
<line x1="1371.7" y1="1051.5" x2="1371.7" y2="1071.1" stroke="#808080" stroke-width="4" stroke-linecap="butt"/>
<line x1="1365.2" y1="1051.5" x2="1378.2" y2="1051.5" stroke="#808080" stroke-width="4" stroke-linecap="round"/>
<line x1="1365.2" y1="1071.1" x2="1378.2" y2="1071.1" stroke="#808080" stroke-width="4" stroke-linecap="round"/>
<line x1="1422.7" y1="1002.9" x2="1422.7" y2="1040.2" stroke="#808080" stroke-width="4" stroke-linecap="butt"/>
<line x1="1416.2" y1="1002.9" x2="1429.2" y2="1002.9" stroke="#808080" stroke-width="4" stroke-linecap="round"/>
<line x1="1416.2" y1="1040.2" x2="1429.2" y2="1040.2" stroke="#808080" stroke-width="4" stroke-linecap="round"/>
<line x1="1473.7" y1="1054.3" x2="1473.7" y2="1071.9" stroke="#808080" stroke-width="4" stroke-linecap="butt"/>
<line x1="1467.2" y1="1054.3" x2="1480.2" y2="1054.3" stroke="#808080" stroke-width="4" stroke-linecap="round"/>
<line x1="1467.2" y1="1071.9" x2="1480.2" y2="1071.9" stroke="#808080" stroke-width="4" stroke-linecap="round"/>
<line x1="1524.7" y1="1044.4" x2="1524.7" y2="1064.1" stroke="#808080" stroke-width="4" stroke-linecap="butt"/>
<line x1="1518.2" y1="1044.4" x2="1531.2" y2="1044.4" stroke="#808080" stroke-width="4" stroke-linecap="round"/>
<line x1="1518.2" y1="1064.1" x2="1531.2" y2="1064.1" stroke="#808080" stroke-width="4" stroke-linecap="round"/>
<line x1="1575.7" y1="1065.5" x2="1575.7" y2="1082.3" stroke="#808080" stroke-width="4" stroke-linecap="butt"/>
<line x1="1569.2" y1="1065.5" x2="1582.2" y2="1065.5" stroke="#808080" stroke-width="4" stroke-linecap="round"/>
<line x1="1569.2" y1="1082.3" x2="1582.2" y2="1082.3" stroke="#808080" stroke-width="4" stroke-linecap="round"/>
<line x1="1626.7" y1="1074.7" x2="1626.7" y2="1084.3" stroke="#808080" stroke-width="4" stroke-linecap="butt"/>
<line x1="1620.2" y1="1074.7" x2="1633.2" y2="1074.7" stroke="#808080" stroke-width="4" stroke-linecap="round"/>
<line x1="1620.2" y1="1084.3" x2="1633.2" y2="1084.3" stroke="#808080" stroke-width="4" stroke-linecap="round"/>
<polyline points="1371.7,1061.3 1422.7,1021.4 1473.7,1063.5 1524.7,1054.3 1575.7,1073.9 1626.7,1079.5" fill="none" stroke="#808080" stroke-width="4.4" stroke-linejoin="miter" stroke-linecap="butt"/>
<circle cx="1371.7" cy="1061.3" r="6.8" fill="none" stroke="#808080" stroke-width="2.6"/>
<circle cx="1422.7" cy="1021.4" r="6.8" fill="none" stroke="#808080" stroke-width="2.6"/>
<circle cx="1473.7" cy="1063.5" r="6.8" fill="none" stroke="#808080" stroke-width="2.6"/>
<circle cx="1524.7" cy="1054.3" r="6.8" fill="none" stroke="#808080" stroke-width="2.6"/>
<circle cx="1575.7" cy="1073.9" r="6.8" fill="none" stroke="#808080" stroke-width="2.6"/>
<circle cx="1626.7" cy="1079.5" r="6.8" fill="none" stroke="#808080" stroke-width="2.6"/>
<line x1="1371.7" y1="1019.2" x2="1371.7" y2="1042.2" stroke="#000" stroke-width="4" stroke-linecap="butt"/>
<line x1="1365.2" y1="1019.2" x2="1378.2" y2="1019.2" stroke="#000" stroke-width="4" stroke-linecap="round"/>
<line x1="1365.2" y1="1042.2" x2="1378.2" y2="1042.2" stroke="#000" stroke-width="4" stroke-linecap="round"/>
<line x1="1422.7" y1="796.7" x2="1422.7" y2="827" stroke="#000" stroke-width="4" stroke-linecap="butt"/>
<line x1="1416.2" y1="796.7" x2="1429.2" y2="796.7" stroke="#000" stroke-width="4" stroke-linecap="round"/>
<line x1="1416.2" y1="827" x2="1429.2" y2="827" stroke="#000" stroke-width="4" stroke-linecap="round"/>
<line x1="1473.7" y1="993.9" x2="1473.7" y2="1024.8" stroke="#000" stroke-width="4" stroke-linecap="butt"/>
<line x1="1467.2" y1="993.9" x2="1480.2" y2="993.9" stroke="#000" stroke-width="4" stroke-linecap="round"/>
<line x1="1467.2" y1="1024.8" x2="1480.2" y2="1024.8" stroke="#000" stroke-width="4" stroke-linecap="round"/>
<line x1="1524.7" y1="1037.4" x2="1524.7" y2="1068.3" stroke="#000" stroke-width="4" stroke-linecap="butt"/>
<line x1="1518.2" y1="1037.4" x2="1531.2" y2="1037.4" stroke="#000" stroke-width="4" stroke-linecap="round"/>
<line x1="1518.2" y1="1068.3" x2="1531.2" y2="1068.3" stroke="#000" stroke-width="4" stroke-linecap="round"/>
<line x1="1575.7" y1="1019.2" x2="1575.7" y2="1037.4" stroke="#000" stroke-width="4" stroke-linecap="butt"/>
<line x1="1569.2" y1="1019.2" x2="1582.2" y2="1019.2" stroke="#000" stroke-width="4" stroke-linecap="round"/>
<line x1="1569.2" y1="1037.4" x2="1582.2" y2="1037.4" stroke="#000" stroke-width="4" stroke-linecap="round"/>
<line x1="1626.7" y1="1033.2" x2="1626.7" y2="1058.5" stroke="#000" stroke-width="4" stroke-linecap="butt"/>
<line x1="1620.2" y1="1033.2" x2="1633.2" y2="1033.2" stroke="#000" stroke-width="4" stroke-linecap="round"/>
<line x1="1620.2" y1="1058.5" x2="1633.2" y2="1058.5" stroke="#000" stroke-width="4" stroke-linecap="round"/>
<polyline points="1371.7,1030.4 1422.7,811.5 1473.7,1009.4 1524.7,1052.9 1575.7,1027.6 1626.7,1045.8" fill="none" stroke="#000" stroke-width="4.4" stroke-linejoin="miter" stroke-linecap="butt"/>
<circle cx="1371.7" cy="1030.4" r="6.8" fill="none" stroke="#000" stroke-width="2.6"/>
<circle cx="1422.7" cy="811.5" r="6.8" fill="none" stroke="#000" stroke-width="2.6"/>
<circle cx="1473.7" cy="1009.4" r="6.8" fill="none" stroke="#000" stroke-width="2.6"/>
<circle cx="1524.7" cy="1052.9" r="6.8" fill="none" stroke="#000" stroke-width="2.6"/>
<circle cx="1575.7" cy="1027.6" r="6.8" fill="none" stroke="#000" stroke-width="2.6"/>
<circle cx="1626.7" cy="1045.8" r="6.8" fill="none" stroke="#000" stroke-width="2.6"/>
<line x1="1371.7" y1="1051.5" x2="1371.7" y2="1073.9" stroke="#b3b3b3" stroke-width="4" stroke-linecap="butt"/>
<line x1="1365.2" y1="1051.5" x2="1378.2" y2="1051.5" stroke="#b3b3b3" stroke-width="4" stroke-linecap="round"/>
<line x1="1365.2" y1="1073.9" x2="1378.2" y2="1073.9" stroke="#b3b3b3" stroke-width="4" stroke-linecap="round"/>
<line x1="1422.7" y1="1056.2" x2="1422.7" y2="1076.2" stroke="#b3b3b3" stroke-width="4" stroke-linecap="butt"/>
<line x1="1416.2" y1="1056.2" x2="1429.2" y2="1056.2" stroke="#b3b3b3" stroke-width="4" stroke-linecap="round"/>
<line x1="1416.2" y1="1076.2" x2="1429.2" y2="1076.2" stroke="#b3b3b3" stroke-width="4" stroke-linecap="round"/>
<line x1="1473.7" y1="1027" x2="1473.7" y2="1050.6" stroke="#b3b3b3" stroke-width="4" stroke-linecap="butt"/>
<line x1="1467.2" y1="1027" x2="1480.2" y2="1027" stroke="#b3b3b3" stroke-width="4" stroke-linecap="round"/>
<line x1="1467.2" y1="1050.6" x2="1480.2" y2="1050.6" stroke="#b3b3b3" stroke-width="4" stroke-linecap="round"/>
<line x1="1524.7" y1="1037.4" x2="1524.7" y2="1058.5" stroke="#b3b3b3" stroke-width="4" stroke-linecap="butt"/>
<line x1="1518.2" y1="1037.4" x2="1531.2" y2="1037.4" stroke="#b3b3b3" stroke-width="4" stroke-linecap="round"/>
<line x1="1518.2" y1="1058.5" x2="1531.2" y2="1058.5" stroke="#b3b3b3" stroke-width="4" stroke-linecap="round"/>
<line x1="1575.7" y1="1033.2" x2="1575.7" y2="1053.7" stroke="#b3b3b3" stroke-width="4" stroke-linecap="butt"/>
<line x1="1569.2" y1="1033.2" x2="1582.2" y2="1033.2" stroke="#b3b3b3" stroke-width="4" stroke-linecap="round"/>
<line x1="1569.2" y1="1053.7" x2="1582.2" y2="1053.7" stroke="#b3b3b3" stroke-width="4" stroke-linecap="round"/>
<line x1="1626.7" y1="1044.4" x2="1626.7" y2="1060.7" stroke="#b3b3b3" stroke-width="4" stroke-linecap="butt"/>
<line x1="1620.2" y1="1044.4" x2="1633.2" y2="1044.4" stroke="#b3b3b3" stroke-width="4" stroke-linecap="round"/>
<line x1="1620.2" y1="1060.7" x2="1633.2" y2="1060.7" stroke="#b3b3b3" stroke-width="4" stroke-linecap="round"/>
<polyline points="1371.7,1062.7 1422.7,1066 1473.7,1038.8 1524.7,1048.7 1575.7,1043 1626.7,1052.3" fill="none" stroke="#b3b3b3" stroke-width="4.4" stroke-linejoin="miter" stroke-linecap="butt"/>
<circle cx="1371.7" cy="1062.7" r="6.8" fill="none" stroke="#b3b3b3" stroke-width="2.6"/>
<circle cx="1422.7" cy="1066" r="6.8" fill="none" stroke="#b3b3b3" stroke-width="2.6"/>
<circle cx="1473.7" cy="1038.8" r="6.8" fill="none" stroke="#b3b3b3" stroke-width="2.6"/>
<circle cx="1524.7" cy="1048.7" r="6.8" fill="none" stroke="#b3b3b3" stroke-width="2.6"/>
<circle cx="1575.7" cy="1043" r="6.8" fill="none" stroke="#b3b3b3" stroke-width="2.6"/>
<circle cx="1626.7" cy="1052.3" r="6.8" fill="none" stroke="#b3b3b3" stroke-width="2.6"/>
<text x="1372.2" y="782.8" font-size="25" fill="#000"><tspan font-style="italic">p</tspan><tspan dx="5.6">&lt;</tspan><tspan dx="5.6">0.001</tspan></text>
<text font-size="25" text-anchor="middle" transform="translate(1264.6,936.7) rotate(-90)" fill="#000">Left paw print positions (cm)</text>
<line x1="907.7" y1="1362.35" x2="907.7" y2="1740.45" stroke="#000" stroke-width="2.9" stroke-linecap="butt"/>
<line x1="907.7" y1="1739" x2="1177.45" y2="1739" stroke="#000" stroke-width="2.9" stroke-linecap="butt"/>
<line x1="893.55" y1="1363.8" x2="907.7" y2="1363.8" stroke="#000" stroke-width="2.9" stroke-linecap="round"/>
<text x="883.1" y="1372.6" font-size="25" text-anchor="end" fill="#000">60</text>
<line x1="893.55" y1="1488.7" x2="907.7" y2="1488.7" stroke="#000" stroke-width="2.9" stroke-linecap="round"/>
<text x="883.1" y="1497.5" font-size="25" text-anchor="end" fill="#000">40</text>
<line x1="893.55" y1="1614.1" x2="907.7" y2="1614.1" stroke="#000" stroke-width="2.9" stroke-linecap="round"/>
<text x="883.1" y="1622.9" font-size="25" text-anchor="end" fill="#000">20</text>
<line x1="893.55" y1="1739" x2="907.7" y2="1739" stroke="#000" stroke-width="2.9" stroke-linecap="round"/>
<text x="883.1" y="1747.8" font-size="25" text-anchor="end" fill="#000">0</text>
<line x1="924.2" y1="1739" x2="924.2" y2="1752.55" stroke="#000" stroke-width="2.9" stroke-linecap="round"/>
<text font-size="25" text-anchor="end" transform="translate(935.2,1774.6) rotate(-45)" fill="#000">Baseline</text>
<line x1="1008.7" y1="1739" x2="1008.7" y2="1752.55" stroke="#000" stroke-width="2.9" stroke-linecap="round"/>
<text font-size="25" text-anchor="end" transform="translate(1019.7,1774.6) rotate(-45)" fill="#000">15 min</text>
<line x1="1092.3" y1="1739" x2="1092.3" y2="1752.55" stroke="#000" stroke-width="2.9" stroke-linecap="round"/>
<text font-size="25" text-anchor="end" transform="translate(1103.3,1774.6) rotate(-45)" fill="#000">45 min</text>
<line x1="1176" y1="1739" x2="1176" y2="1752.55" stroke="#000" stroke-width="2.9" stroke-linecap="round"/>
<text font-size="25" text-anchor="end" transform="translate(1187,1774.6) rotate(-45)" fill="#000">90 min</text>
<line x1="924.2" y1="1445.2" x2="924.2" y2="1505" stroke="#000" stroke-width="4" stroke-linecap="butt"/>
<line x1="917.7" y1="1445.2" x2="930.7" y2="1445.2" stroke="#000" stroke-width="4" stroke-linecap="round"/>
<line x1="917.7" y1="1505" x2="930.7" y2="1505" stroke="#000" stroke-width="4" stroke-linecap="round"/>
<line x1="1008.7" y1="1526" x2="1008.7" y2="1591.1" stroke="#000" stroke-width="4" stroke-linecap="butt"/>
<line x1="1002.2" y1="1526" x2="1015.2" y2="1526" stroke="#000" stroke-width="4" stroke-linecap="round"/>
<line x1="1002.2" y1="1591.1" x2="1015.2" y2="1591.1" stroke="#000" stroke-width="4" stroke-linecap="round"/>
<line x1="1092.3" y1="1372.8" x2="1092.3" y2="1411.5" stroke="#000" stroke-width="4" stroke-linecap="butt"/>
<line x1="1085.8" y1="1372.8" x2="1098.8" y2="1372.8" stroke="#000" stroke-width="4" stroke-linecap="round"/>
<line x1="1085.8" y1="1411.5" x2="1098.8" y2="1411.5" stroke="#000" stroke-width="4" stroke-linecap="round"/>
<line x1="1176" y1="1408.2" x2="1176" y2="1476.9" stroke="#000" stroke-width="4" stroke-linecap="butt"/>
<line x1="1169.5" y1="1408.2" x2="1182.5" y2="1408.2" stroke="#000" stroke-width="4" stroke-linecap="round"/>
<line x1="1169.5" y1="1476.9" x2="1182.5" y2="1476.9" stroke="#000" stroke-width="4" stroke-linecap="round"/>
<polyline points="924.2,1475.5 1008.7,1558.9 1092.3,1391.9 1176,1443.2" fill="none" stroke="#000" stroke-width="4.4" stroke-linejoin="miter" stroke-linecap="butt"/>
<circle cx="924.2" cy="1475.5" r="6.8" fill="none" stroke="#000" stroke-width="2.6"/>
<circle cx="1008.7" cy="1558.9" r="6.8" fill="none" stroke="#000" stroke-width="2.6"/>
<circle cx="1092.3" cy="1391.9" r="6.8" fill="none" stroke="#000" stroke-width="2.6"/>
<circle cx="1176" cy="1443.2" r="6.8" fill="none" stroke="#000" stroke-width="2.6"/>
<text x="956.8" y="1621.3" font-size="25" fill="#000"><tspan font-style="italic">p</tspan> = 0.007</text>
<text font-size="25" text-anchor="middle" transform="translate(826.2,1550) rotate(-90)" fill="#000">Left hind swing speed (cm/s)</text>
<text x="868.4" y="1314.7" font-size="25" font-style="italic" fill="#000">Aldh1l1-CreER<tspan font-size="16" dy="-12">T2</tspan></text>
<text x="800.5" y="1316.1" font-size="42" font-weight="bold" fill="#000">d</text>
<text x="1181.3" y="1314.2" font-size="25" fill="#000">EtOH + MK912</text>
<line x1="1355.4" y1="1362.35" x2="1355.4" y2="1740.45" stroke="#000" stroke-width="2.9" stroke-linecap="butt"/>
<line x1="1355.4" y1="1739" x2="1627.35" y2="1739" stroke="#000" stroke-width="2.9" stroke-linecap="butt"/>
<line x1="1341.25" y1="1363.8" x2="1355.4" y2="1363.8" stroke="#000" stroke-width="2.9" stroke-linecap="round"/>
<text x="1330.8" y="1372.6" font-size="25" text-anchor="end" fill="#000">1.6</text>
<line x1="1341.25" y1="1457.8" x2="1355.4" y2="1457.8" stroke="#000" stroke-width="2.9" stroke-linecap="round"/>
<text x="1330.8" y="1466.6" font-size="25" text-anchor="end" fill="#000">1.2</text>
<line x1="1341.25" y1="1551.8" x2="1355.4" y2="1551.8" stroke="#000" stroke-width="2.9" stroke-linecap="round"/>
<text x="1330.8" y="1560.6" font-size="25" text-anchor="end" fill="#000">0.8</text>
<line x1="1341.25" y1="1645.3" x2="1355.4" y2="1645.3" stroke="#000" stroke-width="2.9" stroke-linecap="round"/>
<text x="1330.8" y="1654.1" font-size="25" text-anchor="end" fill="#000">0.4</text>
<line x1="1341.25" y1="1739" x2="1355.4" y2="1739" stroke="#000" stroke-width="2.9" stroke-linecap="round"/>
<text x="1330.8" y="1747.8" font-size="25" text-anchor="end" fill="#000">0</text>
<line x1="1371.7" y1="1739" x2="1371.7" y2="1752.55" stroke="#000" stroke-width="2.9" stroke-linecap="round"/>
<text font-size="25" text-anchor="end" transform="translate(1382.7,1774.6) rotate(-45)" fill="#000">Baseline</text>
<line x1="1456.4" y1="1739" x2="1456.4" y2="1752.55" stroke="#000" stroke-width="2.9" stroke-linecap="round"/>
<text font-size="25" text-anchor="end" transform="translate(1467.4,1774.6) rotate(-45)" fill="#000">15 min</text>
<line x1="1541.2" y1="1739" x2="1541.2" y2="1752.55" stroke="#000" stroke-width="2.9" stroke-linecap="round"/>
<text font-size="25" text-anchor="end" transform="translate(1552.2,1774.6) rotate(-45)" fill="#000">45 min</text>
<line x1="1625.9" y1="1739" x2="1625.9" y2="1752.55" stroke="#000" stroke-width="2.9" stroke-linecap="round"/>
<text font-size="25" text-anchor="end" transform="translate(1636.9,1774.6) rotate(-45)" fill="#000">90 min</text>
<line x1="1371.7" y1="1596.7" x2="1371.7" y2="1619.2" stroke="#000" stroke-width="4" stroke-linecap="butt"/>
<line x1="1365.2" y1="1596.7" x2="1378.2" y2="1596.7" stroke="#000" stroke-width="4" stroke-linecap="round"/>
<line x1="1365.2" y1="1619.2" x2="1378.2" y2="1619.2" stroke="#000" stroke-width="4" stroke-linecap="round"/>
<line x1="1456.4" y1="1425.6" x2="1456.4" y2="1462.9" stroke="#000" stroke-width="4" stroke-linecap="butt"/>
<line x1="1449.9" y1="1425.6" x2="1462.9" y2="1425.6" stroke="#000" stroke-width="4" stroke-linecap="round"/>
<line x1="1449.9" y1="1462.9" x2="1462.9" y2="1462.9" stroke="#000" stroke-width="4" stroke-linecap="round"/>
<line x1="1541.2" y1="1614.1" x2="1541.2" y2="1636" stroke="#000" stroke-width="4" stroke-linecap="butt"/>
<line x1="1534.7" y1="1614.1" x2="1547.7" y2="1614.1" stroke="#000" stroke-width="4" stroke-linecap="round"/>
<line x1="1534.7" y1="1636" x2="1547.7" y2="1636" stroke="#000" stroke-width="4" stroke-linecap="round"/>
<line x1="1625.9" y1="1593.9" x2="1625.9" y2="1628.2" stroke="#000" stroke-width="4" stroke-linecap="butt"/>
<line x1="1619.4" y1="1593.9" x2="1632.4" y2="1593.9" stroke="#000" stroke-width="4" stroke-linecap="round"/>
<line x1="1619.4" y1="1628.2" x2="1632.4" y2="1628.2" stroke="#000" stroke-width="4" stroke-linecap="round"/>
<polyline points="1371.7,1608 1456.4,1444.4 1541.2,1625.6 1625.9,1611.3" fill="none" stroke="#000" stroke-width="4.4" stroke-linejoin="miter" stroke-linecap="butt"/>
<circle cx="1371.7" cy="1608" r="6.8" fill="none" stroke="#000" stroke-width="2.6"/>
<circle cx="1456.4" cy="1444.4" r="6.8" fill="none" stroke="#000" stroke-width="2.6"/>
<circle cx="1541.2" cy="1625.6" r="6.8" fill="none" stroke="#000" stroke-width="2.6"/>
<circle cx="1625.9" cy="1611.3" r="6.8" fill="none" stroke="#000" stroke-width="2.6"/>
<text x="1407" y="1410" font-size="25" fill="#000"><tspan font-style="italic">p</tspan><tspan dx="5.6">&lt;</tspan><tspan dx="5.6">0.001</tspan></text>
<text font-size="25" text-anchor="middle" transform="translate(1264.6,1550) rotate(-90)" fill="#000">Left paw print positions (cm)</text>
<line x1="907.7" y1="1989.45" x2="907.7" y2="2354.25" stroke="#000" stroke-width="2.9" stroke-linecap="butt"/>
<line x1="907.7" y1="2352.8" x2="1176.85" y2="2352.8" stroke="#000" stroke-width="2.9" stroke-linecap="butt"/>
<line x1="893.55" y1="1990.9" x2="907.7" y2="1990.9" stroke="#000" stroke-width="2.9" stroke-linecap="round"/>
<text x="883.1" y="1999.7" font-size="25" text-anchor="end" fill="#000">80</text>
<line x1="893.55" y1="2081.2" x2="907.7" y2="2081.2" stroke="#000" stroke-width="2.9" stroke-linecap="round"/>
<text x="883.1" y="2090" font-size="25" text-anchor="end" fill="#000">60</text>
<line x1="893.55" y1="2171.9" x2="907.7" y2="2171.9" stroke="#000" stroke-width="2.9" stroke-linecap="round"/>
<text x="883.1" y="2180.7" font-size="25" text-anchor="end" fill="#000">40</text>
<line x1="893.55" y1="2262.2" x2="907.7" y2="2262.2" stroke="#000" stroke-width="2.9" stroke-linecap="round"/>
<text x="883.1" y="2271" font-size="25" text-anchor="end" fill="#000">20</text>
<line x1="893.55" y1="2352.8" x2="907.7" y2="2352.8" stroke="#000" stroke-width="2.9" stroke-linecap="round"/>
<text x="883.1" y="2361.6" font-size="25" text-anchor="end" fill="#000">0</text>
<line x1="924.2" y1="2352.8" x2="924.2" y2="2366.35" stroke="#000" stroke-width="2.9" stroke-linecap="round"/>
<text font-size="25" text-anchor="end" transform="translate(935.2,2388.4) rotate(-45)" fill="#000">Baseline</text>
<line x1="1007.9" y1="2352.8" x2="1007.9" y2="2366.35" stroke="#000" stroke-width="2.9" stroke-linecap="round"/>
<text font-size="25" text-anchor="end" transform="translate(1018.9,2388.4) rotate(-45)" fill="#000">15 min</text>
<line x1="1092.3" y1="2352.8" x2="1092.3" y2="2366.35" stroke="#000" stroke-width="2.9" stroke-linecap="round"/>
<text font-size="25" text-anchor="end" transform="translate(1103.3,2388.4) rotate(-45)" fill="#000">45 min</text>
<line x1="1175.4" y1="2352.8" x2="1175.4" y2="2366.35" stroke="#000" stroke-width="2.9" stroke-linecap="round"/>
<text font-size="25" text-anchor="end" transform="translate(1186.4,2388.4) rotate(-45)" fill="#000">90 min</text>
<line x1="924.2" y1="2058.8" x2="924.2" y2="2111.5" stroke="#000" stroke-width="4" stroke-linecap="butt"/>
<line x1="917.7" y1="2058.8" x2="930.7" y2="2058.8" stroke="#000" stroke-width="4" stroke-linecap="round"/>
<line x1="917.7" y1="2111.5" x2="930.7" y2="2111.5" stroke="#000" stroke-width="4" stroke-linecap="round"/>
<line x1="1007.9" y1="2172.7" x2="1007.9" y2="2207.8" stroke="#000" stroke-width="4" stroke-linecap="butt"/>
<line x1="1001.4" y1="2172.7" x2="1014.4" y2="2172.7" stroke="#000" stroke-width="4" stroke-linecap="round"/>
<line x1="1001.4" y1="2207.8" x2="1014.4" y2="2207.8" stroke="#000" stroke-width="4" stroke-linecap="round"/>
<line x1="1092.3" y1="2058.2" x2="1092.3" y2="2109.6" stroke="#000" stroke-width="4" stroke-linecap="butt"/>
<line x1="1085.8" y1="2058.2" x2="1098.8" y2="2058.2" stroke="#000" stroke-width="4" stroke-linecap="round"/>
<line x1="1085.8" y1="2109.6" x2="1098.8" y2="2109.6" stroke="#000" stroke-width="4" stroke-linecap="round"/>
<line x1="1175.4" y1="2077.8" x2="1175.4" y2="2104.8" stroke="#000" stroke-width="4" stroke-linecap="butt"/>
<line x1="1168.9" y1="2077.8" x2="1181.9" y2="2077.8" stroke="#000" stroke-width="4" stroke-linecap="round"/>
<line x1="1168.9" y1="2104.8" x2="1181.9" y2="2104.8" stroke="#000" stroke-width="4" stroke-linecap="round"/>
<polyline points="924.2,2085.4 1007.9,2190.9 1092.3,2083.5 1175.4,2091.3" fill="none" stroke="#000" stroke-width="4.4" stroke-linejoin="miter" stroke-linecap="butt"/>
<circle cx="924.2" cy="2085.4" r="6.8" fill="none" stroke="#000" stroke-width="2.6"/>
<circle cx="1007.9" cy="2190.9" r="6.8" fill="none" stroke="#000" stroke-width="2.6"/>
<circle cx="1092.3" cy="2083.5" r="6.8" fill="none" stroke="#000" stroke-width="2.6"/>
<circle cx="1175.4" cy="2091.3" r="6.8" fill="none" stroke="#000" stroke-width="2.6"/>
<line x1="924.2" y1="2018.9" x2="924.2" y2="2070.3" stroke="#b3b3b3" stroke-width="4" stroke-linecap="butt"/>
<line x1="917.7" y1="2018.9" x2="930.7" y2="2018.9" stroke="#b3b3b3" stroke-width="4" stroke-linecap="round"/>
<line x1="917.7" y1="2070.3" x2="930.7" y2="2070.3" stroke="#b3b3b3" stroke-width="4" stroke-linecap="round"/>
<line x1="1007.9" y1="2120.8" x2="1007.9" y2="2154.5" stroke="#b3b3b3" stroke-width="4" stroke-linecap="butt"/>
<line x1="1001.4" y1="2120.8" x2="1014.4" y2="2120.8" stroke="#b3b3b3" stroke-width="4" stroke-linecap="round"/>
<line x1="1001.4" y1="2154.5" x2="1014.4" y2="2154.5" stroke="#b3b3b3" stroke-width="4" stroke-linecap="round"/>
<line x1="1092.3" y1="2056.8" x2="1092.3" y2="2143" stroke="#b3b3b3" stroke-width="4" stroke-linecap="butt"/>
<line x1="1085.8" y1="2056.8" x2="1098.8" y2="2056.8" stroke="#b3b3b3" stroke-width="4" stroke-linecap="round"/>
<line x1="1085.8" y1="2143" x2="1098.8" y2="2143" stroke="#b3b3b3" stroke-width="4" stroke-linecap="round"/>
<line x1="1175.4" y1="2071.7" x2="1175.4" y2="2146.6" stroke="#b3b3b3" stroke-width="4" stroke-linecap="butt"/>
<line x1="1168.9" y1="2071.7" x2="1181.9" y2="2071.7" stroke="#b3b3b3" stroke-width="4" stroke-linecap="round"/>
<line x1="1168.9" y1="2146.6" x2="1181.9" y2="2146.6" stroke="#b3b3b3" stroke-width="4" stroke-linecap="round"/>
<polyline points="924.2,2044.2 1007.9,2137.6 1092.3,2099.7 1175.4,2109.6" fill="none" stroke="#b3b3b3" stroke-width="4.4" stroke-linejoin="miter" stroke-linecap="butt"/>
<circle cx="924.2" cy="2044.2" r="6.8" fill="none" stroke="#b3b3b3" stroke-width="2.6"/>
<circle cx="1007.9" cy="2137.6" r="6.8" fill="none" stroke="#b3b3b3" stroke-width="2.6"/>
<circle cx="1092.3" cy="2099.7" r="6.8" fill="none" stroke="#b3b3b3" stroke-width="2.6"/>
<circle cx="1175.4" cy="2109.6" r="6.8" fill="none" stroke="#b3b3b3" stroke-width="2.6"/>
<text x="916.7" y="1975.3" font-size="25" fill="#000"><tspan font-style="italic">p</tspan><tspan dx="5.6">&lt;</tspan><tspan dx="5.6">0.001</tspan></text>
<line x1="922.6" y1="1987.5" x2="1008.5" y2="1987.5" stroke="#000" stroke-width="2.2" stroke-linecap="butt"/>
<text x="970.3" y="2050.3" font-size="25" fill="#000">n.s.</text>
<line x1="989.1" y1="2056.8" x2="965.2" y2="2082.1" stroke="#000" stroke-width="1.7" stroke-linecap="butt"/>
<line x1="989.1" y1="2056.8" x2="965.2" y2="2128.9" stroke="#000" stroke-width="1.7" stroke-linecap="butt"/>
<text font-size="25" text-anchor="middle" transform="translate(826.2,2172) rotate(-90)" fill="#000">Left hind swing speed (cm/s)</text>
<text x="800.5" y="1930.5" font-size="42" font-weight="bold" fill="#000">e</text>
<line x1="1038.7" y1="1923" x2="1068.2" y2="1923" stroke="#b3b3b3" stroke-width="6.4" stroke-linecap="butt"/>
<text x="1080.3" y="1930" font-size="25" font-style="italic" fill="#000">Adra1<tspan font-size="16" dy="-12" font-style="normal">+/+</tspan></text>
<line x1="1245.1" y1="1923" x2="1274.6" y2="1923" stroke="#000" stroke-width="6.4" stroke-linecap="butt"/>
<text x="1287.2" y="1930" font-size="25" font-style="italic" fill="#000">Adra1<tspan font-size="16" dy="-12" font-style="normal">−/−</tspan></text>
<line x1="1355.4" y1="1989.45" x2="1355.4" y2="2353.45" stroke="#000" stroke-width="2.9" stroke-linecap="butt"/>
<line x1="1355.4" y1="2352" x2="1627.35" y2="2352" stroke="#000" stroke-width="2.9" stroke-linecap="butt"/>
<line x1="1341.25" y1="1990.9" x2="1355.4" y2="1990.9" stroke="#000" stroke-width="2.9" stroke-linecap="round"/>
<text x="1330.8" y="1999.7" font-size="25" text-anchor="end" fill="#000">1.2</text>
<line x1="1341.25" y1="2111" x2="1355.4" y2="2111" stroke="#000" stroke-width="2.9" stroke-linecap="round"/>
<text x="1330.8" y="2119.8" font-size="25" text-anchor="end" fill="#000">0.8</text>
<line x1="1341.25" y1="2231.3" x2="1355.4" y2="2231.3" stroke="#000" stroke-width="2.9" stroke-linecap="round"/>
<text x="1330.8" y="2240.1" font-size="25" text-anchor="end" fill="#000">0.4</text>
<line x1="1341.25" y1="2352" x2="1355.4" y2="2352" stroke="#000" stroke-width="2.9" stroke-linecap="round"/>
<text x="1330.8" y="2360.8" font-size="25" text-anchor="end" fill="#000">0</text>
<line x1="1371.7" y1="2352" x2="1371.7" y2="2365.55" stroke="#000" stroke-width="2.9" stroke-linecap="round"/>
<text font-size="25" text-anchor="end" transform="translate(1382.7,2387.6) rotate(-45)" fill="#000">Baseline</text>
<line x1="1455.6" y1="2352" x2="1455.6" y2="2365.55" stroke="#000" stroke-width="2.9" stroke-linecap="round"/>
<text font-size="25" text-anchor="end" transform="translate(1466.6,2387.6) rotate(-45)" fill="#000">15 min</text>
<line x1="1541.2" y1="2352" x2="1541.2" y2="2365.55" stroke="#000" stroke-width="2.9" stroke-linecap="round"/>
<text font-size="25" text-anchor="end" transform="translate(1552.2,2387.6) rotate(-45)" fill="#000">45 min</text>
<line x1="1625.9" y1="2352" x2="1625.9" y2="2365.55" stroke="#000" stroke-width="2.9" stroke-linecap="round"/>
<text font-size="25" text-anchor="end" transform="translate(1636.9,2387.6) rotate(-45)" fill="#000">90 min</text>
<line x1="1371.7" y1="2188.7" x2="1371.7" y2="2231.6" stroke="#000" stroke-width="4" stroke-linecap="butt"/>
<line x1="1365.2" y1="2188.7" x2="1378.2" y2="2188.7" stroke="#000" stroke-width="4" stroke-linecap="round"/>
<line x1="1365.2" y1="2231.6" x2="1378.2" y2="2231.6" stroke="#000" stroke-width="4" stroke-linecap="round"/>
<line x1="1455.6" y1="1995.1" x2="1455.6" y2="2057.6" stroke="#000" stroke-width="4" stroke-linecap="butt"/>
<line x1="1449.1" y1="1995.1" x2="1462.1" y2="1995.1" stroke="#000" stroke-width="4" stroke-linecap="round"/>
<line x1="1449.1" y1="2057.6" x2="1462.1" y2="2057.6" stroke="#000" stroke-width="4" stroke-linecap="round"/>
<line x1="1541.2" y1="2178" x2="1541.2" y2="2208.3" stroke="#000" stroke-width="4" stroke-linecap="butt"/>
<line x1="1534.7" y1="2178" x2="1547.7" y2="2178" stroke="#000" stroke-width="4" stroke-linecap="round"/>
<line x1="1534.7" y1="2208.3" x2="1547.7" y2="2208.3" stroke="#000" stroke-width="4" stroke-linecap="round"/>
<line x1="1625.9" y1="2192.3" x2="1625.9" y2="2212.5" stroke="#000" stroke-width="4" stroke-linecap="butt"/>
<line x1="1619.4" y1="2192.3" x2="1632.4" y2="2192.3" stroke="#000" stroke-width="4" stroke-linecap="round"/>
<line x1="1619.4" y1="2212.5" x2="1632.4" y2="2212.5" stroke="#000" stroke-width="4" stroke-linecap="round"/>
<polyline points="1371.7,2209.7 1455.6,2026.5 1541.2,2192.9 1625.9,2202.2" fill="none" stroke="#000" stroke-width="4.4" stroke-linejoin="miter" stroke-linecap="butt"/>
<circle cx="1371.7" cy="2209.7" r="6.8" fill="none" stroke="#000" stroke-width="2.6"/>
<circle cx="1455.6" cy="2026.5" r="6.8" fill="none" stroke="#000" stroke-width="2.6"/>
<circle cx="1541.2" cy="2192.9" r="6.8" fill="none" stroke="#000" stroke-width="2.6"/>
<circle cx="1625.9" cy="2202.2" r="6.8" fill="none" stroke="#000" stroke-width="2.6"/>
<line x1="1371.7" y1="2235.8" x2="1371.7" y2="2276.5" stroke="#b3b3b3" stroke-width="4" stroke-linecap="butt"/>
<line x1="1365.2" y1="2235.8" x2="1378.2" y2="2235.8" stroke="#b3b3b3" stroke-width="4" stroke-linecap="round"/>
<line x1="1365.2" y1="2276.5" x2="1378.2" y2="2276.5" stroke="#b3b3b3" stroke-width="4" stroke-linecap="round"/>
<line x1="1455.6" y1="2012.5" x2="1455.6" y2="2081.2" stroke="#b3b3b3" stroke-width="4" stroke-linecap="butt"/>
<line x1="1449.1" y1="2012.5" x2="1462.1" y2="2012.5" stroke="#b3b3b3" stroke-width="4" stroke-linecap="round"/>
<line x1="1449.1" y1="2081.2" x2="1462.1" y2="2081.2" stroke="#b3b3b3" stroke-width="4" stroke-linecap="round"/>
<line x1="1541.2" y1="2254.1" x2="1541.2" y2="2283.3" stroke="#b3b3b3" stroke-width="4" stroke-linecap="butt"/>
<line x1="1534.7" y1="2254.1" x2="1547.7" y2="2254.1" stroke="#b3b3b3" stroke-width="4" stroke-linecap="round"/>
<line x1="1534.7" y1="2283.3" x2="1547.7" y2="2283.3" stroke="#b3b3b3" stroke-width="4" stroke-linecap="round"/>
<line x1="1625.9" y1="2226.6" x2="1625.9" y2="2258" stroke="#b3b3b3" stroke-width="4" stroke-linecap="butt"/>
<line x1="1619.4" y1="2226.6" x2="1632.4" y2="2226.6" stroke="#b3b3b3" stroke-width="4" stroke-linecap="round"/>
<line x1="1619.4" y1="2258" x2="1632.4" y2="2258" stroke="#b3b3b3" stroke-width="4" stroke-linecap="round"/>
<polyline points="1371.7,2256 1455.6,2047 1541.2,2268.7 1625.9,2242.6" fill="none" stroke="#b3b3b3" stroke-width="4.4" stroke-linejoin="miter" stroke-linecap="butt"/>
<circle cx="1371.7" cy="2256" r="6.8" fill="none" stroke="#b3b3b3" stroke-width="2.6"/>
<circle cx="1455.6" cy="2047" r="6.8" fill="none" stroke="#b3b3b3" stroke-width="2.6"/>
<circle cx="1541.2" cy="2268.7" r="6.8" fill="none" stroke="#b3b3b3" stroke-width="2.6"/>
<circle cx="1625.9" cy="2242.6" r="6.8" fill="none" stroke="#b3b3b3" stroke-width="2.6"/>
<text x="1362.1" y="1975.3" font-size="25" fill="#000"><tspan font-style="italic">p</tspan><tspan dx="5.6">&lt;</tspan><tspan dx="5.6">0.001</tspan></text>
<line x1="1372.8" y1="1987.5" x2="1456" y2="1987.5" stroke="#000" stroke-width="2.2" stroke-linecap="butt"/>
<text x="1361.6" y="2050.3" font-size="25" fill="#000">n.s.</text>
<line x1="1381.2" y1="2057.6" x2="1413.5" y2="2105.9" stroke="#000" stroke-width="1.7" stroke-linecap="butt"/>
<line x1="1381.2" y1="2057.6" x2="1413.5" y2="2138.2" stroke="#000" stroke-width="1.7" stroke-linecap="butt"/>
<text font-size="25" text-anchor="middle" transform="translate(1264.6,2172) rotate(-90)" fill="#000">Left paw print positions (cm)</text>
<text x="-1" y="703.6" font-size="42" font-weight="bold" fill="#000">b</text>
<text x="262.6" y="705.9" font-size="25" font-style="italic" fill="#000">Aldh1l1-CreER<tspan font-size="16" dy="-12">T2</tspan></text>
<defs>
<linearGradient id="og" x1="0" y1="0" x2="0" y2="1">
<stop offset="0" stop-color="#a81c10"/>
<stop offset="0.035" stop-color="#c4260f"/>
<stop offset="0.075" stop-color="#f4420c"/>
<stop offset="0.11" stop-color="#ff4a0a"/>
<stop offset="0.5" stop-color="#ff4c0a"/>
<stop offset="0.87" stop-color="#ff4509"/>
<stop offset="0.915" stop-color="#e2330d"/>
<stop offset="0.96" stop-color="#c4260f"/>
<stop offset="1" stop-color="#d83a14"/>
</linearGradient>
<radialGradient id="gs1"><stop offset="0" stop-color="#3fa54a"/><stop offset="0.55" stop-color="#2c7a34" stop-opacity="0.85"/><stop offset="1" stop-color="#0c1f0c" stop-opacity="0"/></radialGradient>
<radialGradient id="gs2"><stop offset="0" stop-color="#48e070"/><stop offset="0.5" stop-color="#2fa84a" stop-opacity="0.9"/><stop offset="1" stop-color="#0c1f0c" stop-opacity="0"/></radialGradient>
<radialGradient id="gs3"><stop offset="0" stop-color="#16381a" stop-opacity="0.55"/><stop offset="1" stop-color="#0c1f0c" stop-opacity="0"/></radialGradient>
</defs>
<rect x="6" y="732" width="698" height="206" fill="url(#og)"/>
<path d="M50.6 892.4 L52.9 892.4 L52.9 890.1 L55.2 890.1 L55.2 887.8 L57.5 887.8 L57.5 885.5 L59.8 885.5 L59.8 883.2 L62.1 883.2 L62.1 878.6 L64.4 878.6 L64.4 876.3 L66.7 876.3 L69 876.3 L69 874 L71.3 874 L73.6 874 L75.9 874 L78.2 874 L80.5 874 L80.5 871.7 L82.8 871.7 L85.1 871.7 L87.4 871.7 L89.7 871.7 L89.7 869.4 L92 869.4 L94.3 869.4 L96.6 869.4 L98.9 869.4 L101.2 869.4 L105.8 869.4 L105.8 867.1 L108.1 867.1 L110.4 867.1 L112.7 867.1 L115 867.1 L117.3 867.1 L119.6 867.1 L119.6 864.8 L121.9 864.8 L124.2 864.8 L126.5 864.8 L128.8 864.8 L131.1 864.8 L133.4 864.8 L135.7 864.8 L138 864.8 L140.3 864.8 L142.6 864.8 L144.9 864.8 L147.2 864.8 L149.5 864.8 L151.8 864.8 L154.1 864.8 L156.4 864.8 L158.7 864.8 L161 864.8 L163.3 864.8 L165.6 864.8 L167.9 864.8 L170.2 864.8 L172.5 864.8 L174.8 864.8 L177.1 864.8 L179.4 864.8 L181.7 864.8 L184 864.8 L186.3 864.8 L190.9 864.8 L190.9 862.5 L193.2 862.5 L193.2 864.8 L195.5 864.8 L197.8 864.8 L200.1 864.8 L202.4 864.8 L204.7 864.8 L207 864.8 L209.3 864.8 L211.6 864.8 L213.9 864.8 L216.2 864.8 L216.2 867.1 L218.5 867.1 L220.8 867.1 L223.1 867.1 L225.4 867.1 L227.7 867.1 L230 867.1 L232.3 867.1 L234.6 867.1 L239.2 867.1 L241.5 867.1 L241.5 864.8 L243.8 864.8 L243.8 862.5 L248.4 862.5 L248.4 860.2 L250.7 860.2 L253 860.2 L253 857.9 L255.3 857.9 L255.3 855.6 L257.6 855.6 L259.9 855.6 L259.9 853.3 L262.2 853.3 L264.5 853.3 L264.5 851 L266.8 851 L269.1 851 L271.4 851 L271.4 848.7 L273.7 848.7 L276 848.7 L276 846.4 L278.3 846.4 L278.3 844.1 L280.6 844.1 L280.6 841.8 L282.9 841.8 L285.2 841.8 L285.2 839.5 L287.5 839.5 L287.5 837.2 L289.8 837.2 L292.1 837.2 L292.1 834.9 L294.4 834.9 L296.7 834.9 L296.7 832.6 L299 832.6 L301.3 832.6 L303.6 832.6 L305.9 832.6 L310.5 832.6 L312.8 832.6 L315.1 832.6 L317.4 832.6 L319.7 832.6 L319.7 834.9 L324.3 834.9 L326.6 834.9 L326.6 837.2 L326.6 839.5 L326.6 841.8 L328.9 841.8 L328.9 844.1 L328.9 846.4 L328.9 848.7 L331.2 848.7 L333.5 848.7 L335.8 848.7 L335.8 846.4 L338.1 846.4 L340.4 846.4 L342.7 846.4 L345 846.4 L347.3 846.4 L349.6 846.4 L351.9 846.4 L351.9 844.1 L354.2 844.1 L356.5 844.1 L358.8 844.1 L361.1 844.1 L363.4 844.1 L365.7 844.1 L368 844.1 L370.3 844.1 L372.6 844.1 L374.9 844.1 L377.2 844.1 L379.5 844.1 L381.8 844.1 L384.1 844.1 L386.4 844.1 L388.7 844.1 L388.7 846.4 L391 846.4 L393.3 846.4 L397.9 846.4 L397.9 844.1 L400.2 844.1 L402.5 844.1 L404.8 844.1 L407.1 844.1 L411.7 844.1 L414 844.1 L416.3 844.1 L416.3 846.4 L418.6 846.4 L420.9 846.4 L420.9 848.7 L423.2 848.7 L425.5 848.7 L425.5 851 L427.8 851 L427.8 853.3 L430.1 853.3 L432.4 853.3 L432.4 855.6 L434.7 855.6 L434.7 857.9 L437 857.9 L439.3 857.9 L439.3 860.2 L441.6 860.2 L443.9 860.2 L443.9 862.5 L446.2 862.5 L448.5 862.5 L448.5 864.8 L450.8 864.8 L453.1 864.8 L453.1 867.1 L455.4 867.1 L455.4 869.4 L455.4 871.7 L457.7 871.7 L457.7 874 L460 874 L460 876.3 L462.3 876.3 L462.3 878.6 L464.6 878.6 L464.6 883.2 L466.9 883.2 L466.9 885.5 L466.9 887.8 L464.6 887.8 L464.6 890.1 L464.6 892.4 L462.3 892.4 L462.3 894.7 L460 894.7 L460 897 L455.4 897 L455.4 901.6 L453.1 901.6 L453.1 903.9 L450.8 903.9 L448.5 903.9 L448.5 906.2 L446.2 906.2 L443.9 906.2 L443.9 908.5 L441.6 908.5 L441.6 910.8 L439.3 910.8 L439.3 913.1 L437 913.1 L434.7 913.1 L434.7 915.4 L432.4 915.4 L432.4 917.7 L430.1 917.7 L430.1 920 L427.8 920 L427.8 924.6 L425.5 924.6 L423.2 924.6 L420.9 924.6 L420.9 922.3 L418.6 922.3 L416.3 922.3 L414 922.3 L411.7 922.3 L411.7 924.6 L409.4 924.6 L407.1 924.6 L404.8 924.6 L404.8 926.9 L402.5 926.9 L400.2 926.9 L400.2 929.2 L395.6 929.2 L395.6 933.8 L393.3 933.8 L391 933.8 L388.7 933.8 L386.4 933.8 L384.1 933.8 L381.8 933.8 L379.5 933.8 L377.2 933.8 L374.9 933.8 L370.3 933.8 L368 933.8 L368 931.5 L365.7 931.5 L363.4 931.5 L361.1 931.5 L356.5 931.5 L356.5 933.8 L354.2 933.8 L351.9 933.8 L349.6 933.8 L347.3 933.8 L345 933.8 L342.7 933.8 L340.4 933.8 L338.1 933.8 L335.8 933.8 L333.5 933.8 L331.2 933.8 L328.9 933.8 L326.6 933.8 L324.3 933.8 L322 933.8 L319.7 933.8 L317.4 933.8 L315.1 933.8 L312.8 933.8 L310.5 933.8 L308.2 933.8 L305.9 933.8 L303.6 933.8 L301.3 933.8 L299 933.8 L296.7 933.8 L294.4 933.8 L292.1 933.8 L289.8 933.8 L287.5 933.8 L285.2 933.8 L282.9 933.8 L280.6 933.8 L278.3 933.8 L276 933.8 L273.7 933.8 L271.4 933.8 L269.1 933.8 L266.8 933.8 L264.5 933.8 L262.2 933.8 L259.9 933.8 L257.6 933.8 L255.3 933.8 L253 933.8 L250.7 933.8 L248.4 933.8 L246.1 933.8 L246.1 931.5 L243.8 931.5 L243.8 929.2 L241.5 929.2 L241.5 926.9 L239.2 926.9 L239.2 924.6 L236.9 924.6 L236.9 922.3 L236.9 920 L234.6 920 L234.6 917.7 L232.3 917.7 L230 917.7 L227.7 917.7 L227.7 920 L230 920 L230 922.3 L230 924.6 L227.7 924.6 L227.7 926.9 L227.7 931.5 L225.4 931.5 L225.4 933.8 L225.4 936.1 L223.1 936.1 L220.8 936.1 L218.5 936.1 L218.5 933.8 L216.2 933.8 L213.9 933.8 L213.9 931.5 L213.9 929.2 L213.9 926.9 L213.9 924.6 L213.9 922.3 L213.9 920 L216.2 920 L216.2 915.4 L216.2 913.1 L218.5 913.1 L218.5 910.8 L218.5 908.5 L220.8 908.5 L220.8 903.9 L220.8 901.6 L223.1 901.6 L223.1 899.3 L225.4 899.3 L227.7 899.3 L232.3 899.3 L234.6 899.3 L236.9 899.3 L241.5 899.3 L241.5 897 L241.5 894.7 L241.5 892.4 L241.5 890.1 L241.5 887.8 L241.5 885.5 L239.2 885.5 L236.9 885.5 L234.6 885.5 L234.6 883.2 L232.3 883.2 L230 883.2 L225.4 883.2 L225.4 880.9 L223.1 880.9 L223.1 878.6 L220.8 878.6 L218.5 878.6 L216.2 878.6 L213.9 878.6 L211.6 878.6 L209.3 878.6 L207 878.6 L204.7 878.6 L202.4 878.6 L200.1 878.6 L197.8 878.6 L195.5 878.6 L193.2 878.6 L190.9 878.6 L188.6 878.6 L186.3 878.6 L184 878.6 L181.7 878.6 L179.4 878.6 L177.1 878.6 L174.8 878.6 L172.5 878.6 L170.2 878.6 L167.9 878.6 L165.6 878.6 L163.3 878.6 L161 878.6 L158.7 878.6 L156.4 878.6 L154.1 878.6 L151.8 878.6 L149.5 878.6 L147.2 878.6 L144.9 878.6 L142.6 878.6 L140.3 878.6 L138 878.6 L135.7 878.6 L133.4 878.6 L131.1 878.6 L128.8 878.6 L126.5 878.6 L124.2 878.6 L121.9 878.6 L119.6 878.6 L117.3 878.6 L115 878.6 L112.7 878.6 L110.4 878.6 L110.4 880.9 L105.8 880.9 L103.5 880.9 L101.2 880.9 L98.9 880.9 L96.6 880.9 L94.3 880.9 L92 880.9 L89.7 880.9 L89.7 883.2 L87.4 883.2 L85.1 883.2 L82.8 883.2 L80.5 883.2 L80.5 885.5 L78.2 885.5 L75.9 885.5 L73.6 885.5 L71.3 885.5 L71.3 887.8 L69 887.8 L66.7 887.8 L64.4 887.8 L64.4 890.1 L62.1 890.1 L59.8 890.1 L59.8 892.4 L57.5 892.4 L55.2 892.4 L55.2 894.7 L52.9 894.7Z" fill="#030603" shape-rendering="crispEdges"/>
<ellipse cx="307.99" cy="847.88" rx="11.79" ry="9.54" fill="url(#gs1)"/>
<ellipse cx="337.45" cy="868.93" rx="6.73" ry="6.73" fill="url(#gs1)"/>
<ellipse cx="413.78" cy="910.46" rx="11.22" ry="9.54" fill="url(#gs2)"/>
<ellipse cx="423.88" cy="902.04" rx="5.05" ry="5.05" fill="url(#gs2)"/>
<ellipse cx="320.62" cy="908.22" rx="56.12" ry="16.84" fill="url(#gs3)"/>
<ellipse cx="258.88" cy="919.44" rx="16.84" ry="8.42" fill="url(#gs3)"/>
<path d="M226.45 917.49l3 0l-2 14l-4 3z" fill="#d8d060"/>
<path d="M228.95 918.49l2 1l-2 8z" fill="#e04020"/>
<line x1="80.4" y1="1025" x2="161.6" y2="1025" stroke="#ffff00" stroke-width="10" stroke-linecap="butt"/>
<text x="172.2" y="1034.2" font-size="25" fill="#000">Right front</text>
<line x1="80.4" y1="1070" x2="161.6" y2="1070" stroke="#00ff00" stroke-width="10" stroke-linecap="butt"/>
<text x="172.2" y="1079.2" font-size="25" fill="#000">Right hind</text>
<line x1="433.9" y1="1025" x2="514.2" y2="1025" stroke="#00ffff" stroke-width="10" stroke-linecap="butt"/>
<text x="523.4" y="1034.2" font-size="25" fill="#000">Left front</text>
<line x1="433.9" y1="1070" x2="514.2" y2="1070" stroke="#ff00ff" stroke-width="10" stroke-linecap="butt"/>
<text x="523.4" y="1079.2" font-size="25" fill="#000">Left hind</text>
<text x="351.2" y="1149.6" font-size="25" text-anchor="middle" fill="#000">Baseline</text>
<text x="669" y="1145" font-size="25" text-anchor="middle" fill="#000">2 cm</text>
<line x1="635" y1="1154.2" x2="704" y2="1154.2" stroke="#000" stroke-width="2.5" stroke-linecap="butt"/>
<rect x="6" y="1174.4" width="698" height="233.2" fill="#000"/>
<rect x="6" y="1507.5" width="698" height="232.8" fill="#000"/>
<rect x="6" y="1845.7" width="698" height="233.7" fill="#000"/>
<rect x="6" y="2185.3" width="698" height="233.2" fill="#000"/>
<text x="348" y="1487.3" font-size="25" text-anchor="middle" fill="#000">15 min after EtOH i.p.</text>
<text x="348" y="1825" font-size="25" text-anchor="middle" fill="#000">45 min after EtOH i.p.</text>
<text x="348" y="2163.2" font-size="25" text-anchor="middle" fill="#000">90 min after EtOH i.p.</text>
<path d="M19.5 1312.7h2.3v2.35h-2.3zM12.6 1315h11.5v2.35h-11.5zM12.6 1317.3h16.1v2.35h-16.1zM14.9 1319.6h11.5v2.35h-11.5zM17.2 1321.9h6.9v2.35h-6.9zM19.5 1324.2h2.3v2.35h-2.3z" fill="#00ff00" shape-rendering="crispEdges"/>
<path d="M17.2 1298.9h2.3v2.35h-2.3zM12.6 1301.2h16.1v2.35h-16.1zM10.3 1303.5h18.4v2.35h-18.4zM8 1305.8h20.7v2.35h-20.7zM10.3 1308.1h16.1v2.35h-16.1zM12.6 1310.4h11.5v2.35h-11.5zM14.9 1312.7h6.9v2.35h-6.9zM17.2 1315h2.3v2.35h-2.3z" fill="#ffff00" shape-rendering="crispEdges"/>
<path d="M105.6 1257.6h2.3v2.35h-2.3zM103.3 1259.9h6.9v2.35h-6.9zM117.1 1259.9h2.3v2.35h-2.3zM101 1262.2h20.7v2.35h-20.7zM101 1264.5h20.7v2.35h-20.7zM103.3 1266.8h16.1v2.35h-16.1zM105.6 1269.1h13.8v2.35h-13.8zM105.6 1271.4h6.9v2.35h-6.9zM114.8 1271.4h4.6v2.35h-4.6zM107.9 1273.7h4.6v2.35h-4.6zM107.9 1276h2.3v2.35h-2.3z" fill="#00ffff" shape-rendering="crispEdges"/>
<path d="M93 1253h4.6v2.35h-4.6zM102.2 1253h6.9v2.35h-6.9zM93 1255.3h18.4v2.35h-18.4zM93 1257.6h18.4v2.35h-18.4zM93 1259.9h18.4v2.35h-18.4zM93 1262.2h18.4v2.35h-18.4zM93 1264.5h18.4v2.35h-18.4zM93 1266.8h18.4v2.35h-18.4zM95.3 1269.1h16.1v2.35h-16.1zM95.3 1271.4h4.6v2.35h-4.6zM102.2 1271.4h6.9v2.35h-6.9zM95.3 1273.7h4.6v2.35h-4.6zM102.2 1273.7h6.9v2.35h-6.9zM97.6 1276h2.3v2.35h-2.3zM104.5 1276h2.3v2.35h-2.3z" fill="#ff00ff" shape-rendering="crispEdges"/>
<path d="M199.3 1308h2.3v2.35h-2.3zM208.5 1308h4.6v2.35h-4.6zM197 1310.3h6.9v2.35h-6.9zM206.2 1310.3h11.5v2.35h-11.5zM197 1312.6h20.7v2.35h-20.7zM197 1314.9h20.7v2.35h-20.7zM197 1317.2h4.6v2.35h-4.6zM203.9 1317.2h11.5v2.35h-11.5zM203.9 1319.5h9.2v2.35h-9.2zM203.9 1321.8h9.2v2.35h-9.2zM206.2 1324.1h4.6v2.35h-4.6z" fill="#00ff00" shape-rendering="crispEdges"/>
<path d="M201.6 1296.6h4.6v2.35h-4.6zM210.8 1296.6h4.6v2.35h-4.6zM194.7 1298.9h11.5v2.35h-11.5zM208.5 1298.9h9.2v2.35h-9.2zM194.7 1301.2h23v2.35h-23zM194.7 1303.5h23v2.35h-23zM199.3 1305.8h9.2v2.35h-9.2zM201.6 1308.1h6.9v2.35h-6.9zM203.9 1310.4h2.3v2.35h-2.3z" fill="#ffff00" shape-rendering="crispEdges"/>
<path d="M293.9 1254.8h4.6v2.35h-4.6zM300.8 1254.8h2.3v2.35h-2.3zM293.9 1257.1h13.8v2.35h-13.8zM293.9 1259.4h16.1v2.35h-16.1zM293.9 1261.7h16.1v2.35h-16.1zM293.9 1264h16.1v2.35h-16.1zM293.9 1266.3h13.8v2.35h-13.8zM293.9 1268.6h11.5v2.35h-11.5zM293.9 1270.9h4.6v2.35h-4.6zM300.8 1270.9h2.3v2.35h-2.3z" fill="#00ffff" shape-rendering="crispEdges"/>
<path d="M286.3 1250.7h4.6v2.35h-4.6zM297.8 1250.7h4.6v2.35h-4.6zM284 1253h20.7v2.35h-20.7zM284 1255.3h20.7v2.35h-20.7zM284 1257.6h20.7v2.35h-20.7zM284 1259.9h20.7v2.35h-20.7zM284 1262.2h20.7v2.35h-20.7zM284 1264.5h20.7v2.35h-20.7zM286.3 1266.8h18.4v2.35h-18.4zM286.3 1269.1h11.5v2.35h-11.5zM300.1 1269.1h4.6v2.35h-4.6zM286.3 1271.4h11.5v2.35h-11.5zM300.1 1271.4h4.6v2.35h-4.6zM286.3 1273.7h6.9v2.35h-6.9z" fill="#ff00ff" shape-rendering="crispEdges"/>
<path d="M377.6 1308h4.6v2.35h-4.6zM375.3 1310.3h9.2v2.35h-9.2zM389.1 1310.3h4.6v2.35h-4.6zM373 1312.6h23v2.35h-23zM373 1314.9h23v2.35h-23zM373 1317.2h23v2.35h-23zM375.3 1319.5h18.4v2.35h-18.4zM377.6 1321.8h16.1v2.35h-16.1zM379.9 1324.1h4.6v2.35h-4.6zM386.8 1324.1h6.9v2.35h-6.9zM382.2 1326.4h2.3v2.35h-2.3zM389.1 1326.4h2.3v2.35h-2.3zM382.2 1328.7h2.3v2.35h-2.3z" fill="#00ff00" shape-rendering="crispEdges"/>
<path d="M386.3 1292h4.6v2.35h-4.6zM381.7 1294.3h2.3v2.35h-2.3zM386.3 1294.3h4.6v2.35h-4.6zM379.4 1296.6h13.8v2.35h-13.8zM379.4 1298.9h16.1v2.35h-16.1zM379.4 1301.2h18.4v2.35h-18.4zM381.7 1303.5h13.8v2.35h-13.8zM384 1305.8h9.2v2.35h-9.2zM386.3 1308.1h4.6v2.35h-4.6z" fill="#ffff00" shape-rendering="crispEdges"/>
<path d="M394.6 1300h2.3v2.35h-2.3zM392.3 1302.3h9.2v2.35h-9.2zM392.3 1304.6h9.2v2.35h-9.2zM390 1306.9h11.5v2.35h-11.5zM392.3 1309.2h6.9v2.35h-6.9zM394.6 1311.5h2.3v2.35h-2.3z" fill="#00ff00" shape-rendering="crispEdges"/>
<path d="M492.4 1259.8h4.6v2.35h-4.6zM490.1 1262.1h6.9v2.35h-6.9zM490.1 1264.4h9.2v2.35h-9.2zM483.2 1266.7h2.3v2.35h-2.3zM487.8 1266.7h11.5v2.35h-11.5zM480.9 1269h16.1v2.35h-16.1zM483.2 1271.3h13.8v2.35h-13.8zM483.2 1273.6h13.8v2.35h-13.8zM483.2 1275.9h11.5v2.35h-11.5zM485.5 1278.2h9.2v2.35h-9.2z" fill="#ff00ff" shape-rendering="crispEdges"/>
<path d="M503.2 1266.3h2.3v2.35h-2.3zM498.6 1268.6h11.5v2.35h-11.5zM491.7 1270.9h2.3v2.35h-2.3zM496.3 1270.9h13.8v2.35h-13.8zM489.4 1273.2h18.4v2.35h-18.4zM491.7 1275.5h13.8v2.35h-13.8zM491.7 1277.8h13.8v2.35h-13.8zM494 1280.1h4.6v2.35h-4.6zM500.9 1280.1h4.6v2.35h-4.6z" fill="#00ffff" shape-rendering="crispEdges"/>
<path d="M585.8 1294.7h4.6v2.35h-4.6zM595 1294.7h4.6v2.35h-4.6zM583.5 1297h6.9v2.35h-6.9zM592.7 1297h9.2v2.35h-9.2zM578.9 1299.3h11.5v2.35h-11.5zM592.7 1299.3h9.2v2.35h-9.2zM578.9 1301.6h23v2.35h-23zM578.9 1303.9h23v2.35h-23zM581.2 1306.2h11.5v2.35h-11.5zM595 1306.2h6.9v2.35h-6.9zM583.5 1308.5h9.2v2.35h-9.2zM585.8 1310.8h6.9v2.35h-6.9zM588.1 1313.1h2.3v2.35h-2.3zM588.1 1315.4h2.3v2.35h-2.3z" fill="#ffff00" shape-rendering="crispEdges"/>
<path d="M602.6 1309.9h2.3v2.35h-2.3zM591.1 1312.2h2.3v2.35h-2.3zM600.3 1312.2h6.9v2.35h-6.9zM588.8 1314.5h20.7v2.35h-20.7zM588.8 1316.8h20.7v2.35h-20.7zM591.1 1319.1h16.1v2.35h-16.1zM591.1 1321.4h13.8v2.35h-13.8zM598 1323.7h4.6v2.35h-4.6zM600.3 1326h2.3v2.35h-2.3z" fill="#00ff00" shape-rendering="crispEdges"/>
<path d="M685.2 1257.1h2.3v2.35h-2.3zM682.9 1259.4h4.6v2.35h-4.6zM680.6 1261.7h13.8v2.35h-13.8zM680.6 1264h13.8v2.35h-13.8zM680.6 1266.3h11.5v2.35h-11.5zM682.9 1268.6h4.6v2.35h-4.6zM689.8 1268.6h2.3v2.35h-2.3z" fill="#00ffff" shape-rendering="crispEdges"/>
<path d="M681.1 1259.8h2.3v2.35h-2.3zM685.7 1259.8h4.6v2.35h-4.6zM676.5 1262.1h13.8v2.35h-13.8zM674.2 1264.4h16.1v2.35h-16.1zM674.2 1266.7h16.1v2.35h-16.1zM674.2 1269h16.1v2.35h-16.1zM676.5 1271.3h13.8v2.35h-13.8zM678.8 1273.6h11.5v2.35h-11.5zM681.1 1275.9h2.3v2.35h-2.3zM685.7 1275.9h4.6v2.35h-4.6z" fill="#ff00ff" shape-rendering="crispEdges"/>
<path d="M23 1654.8h4.6v2.35h-4.6zM32.2 1654.8h4.6v2.35h-4.6zM20.7 1657.1h6.9v2.35h-6.9zM29.9 1657.1h9.2v2.35h-9.2zM16.1 1659.4h11.5v2.35h-11.5zM29.9 1659.4h9.2v2.35h-9.2zM16.1 1661.7h23v2.35h-23zM16.1 1664h23v2.35h-23zM18.4 1666.3h11.5v2.35h-11.5zM32.2 1666.3h6.9v2.35h-6.9zM20.7 1668.6h9.2v2.35h-9.2zM23 1670.9h6.9v2.35h-6.9zM25.3 1673.2h2.3v2.35h-2.3zM25.3 1675.5h2.3v2.35h-2.3z" fill="#ffff00" shape-rendering="crispEdges"/>
<path d="M66.1 1580.2h4.6v2.35h-4.6zM77.6 1580.2h6.9v2.35h-6.9zM61.5 1582.5h9.2v2.35h-9.2zM75.3 1582.5h11.5v2.35h-11.5zM56.9 1584.8h16.1v2.35h-16.1zM75.3 1584.8h11.5v2.35h-11.5zM56.9 1587.1h29.9v2.35h-29.9zM56.9 1589.4h29.9v2.35h-29.9zM56.9 1591.7h29.9v2.35h-29.9zM56.9 1594h29.9v2.35h-29.9zM59.2 1596.3h16.1v2.35h-16.1zM77.6 1596.3h9.2v2.35h-9.2zM61.5 1598.6h13.8v2.35h-13.8zM66.1 1600.9h9.2v2.35h-9.2zM68.4 1603.2h4.6v2.35h-4.6zM68.4 1605.5h4.6v2.35h-4.6z" fill="#ff00ff" shape-rendering="crispEdges"/>
<path d="M103.3 1632.3h6.9v2.35h-6.9zM114.8 1632.3h6.9v2.35h-6.9zM101 1634.6h23v2.35h-23zM101 1636.9h23v2.35h-23zM101 1639.2h23v2.35h-23zM101 1641.5h23v2.35h-23zM101 1643.8h23v2.35h-23zM101 1646.1h23v2.35h-23zM101 1648.4h20.7v2.35h-20.7zM101 1650.7h4.6v2.35h-4.6zM110.2 1650.7h11.5v2.35h-11.5zM101 1653h4.6v2.35h-4.6zM110.2 1653h11.5v2.35h-11.5zM112.5 1655.3h9.2v2.35h-9.2z" fill="#00ffff" shape-rendering="crispEdges"/>
<path d="M154.3 1662.1h6.9v2.35h-6.9zM168.1 1662.1h6.9v2.35h-6.9zM152 1664.4h25.3v2.35h-25.3zM152 1666.7h25.3v2.35h-25.3zM152 1669h25.3v2.35h-25.3zM152 1671.3h25.3v2.35h-25.3zM152 1673.6h25.3v2.35h-25.3zM152 1675.9h25.3v2.35h-25.3zM152 1678.2h23v2.35h-23zM152 1680.5h6.9v2.35h-6.9zM161.2 1680.5h13.8v2.35h-13.8zM152 1682.8h6.9v2.35h-6.9zM161.2 1682.8h13.8v2.35h-13.8zM163.5 1685.1h11.5v2.35h-11.5z" fill="#00ff00" shape-rendering="crispEdges"/>
<path d="M181.8 1642.6h4.6v2.35h-4.6zM179.5 1644.9h9.2v2.35h-9.2zM195.6 1644.9h4.6v2.35h-4.6zM177.2 1647.2h25.3v2.35h-25.3zM177.2 1649.5h25.3v2.35h-25.3zM177.2 1651.8h25.3v2.35h-25.3zM179.5 1654.1h20.7v2.35h-20.7zM181.8 1656.4h18.4v2.35h-18.4zM184.1 1658.7h6.9v2.35h-6.9zM193.3 1658.7h6.9v2.35h-6.9zM186.4 1661h4.6v2.35h-4.6zM195.6 1661h2.3v2.35h-2.3zM186.4 1663.3h2.3v2.35h-2.3z" fill="#ffff00" shape-rendering="crispEdges"/>
<path d="M271.6 1569.4h2.3v2.35h-2.3zM269.3 1571.7h6.9v2.35h-6.9zM262.4 1574h4.6v2.35h-4.6zM269.3 1574h6.9v2.35h-6.9zM262.4 1576.3h20.7v2.35h-20.7zM262.4 1578.6h20.7v2.35h-20.7zM262.4 1580.9h20.7v2.35h-20.7zM262.4 1583.2h2.3v2.35h-2.3zM267 1583.2h16.1v2.35h-16.1zM264.7 1585.5h16.1v2.35h-16.1zM267 1587.8h6.9v2.35h-6.9zM269.3 1590.1h2.3v2.35h-2.3z" fill="#ff00ff" shape-rendering="crispEdges"/>
<path d="M273.7 1591.9h4.6v2.35h-4.6zM285.2 1591.9h4.6v2.35h-4.6zM271.4 1594.2h6.9v2.35h-6.9zM282.9 1594.2h9.2v2.35h-9.2zM266.8 1596.5h13.8v2.35h-13.8zM282.9 1596.5h9.2v2.35h-9.2zM266.8 1598.8h25.3v2.35h-25.3zM266.8 1601.1h25.3v2.35h-25.3zM269.1 1603.4h13.8v2.35h-13.8zM285.2 1603.4h6.9v2.35h-6.9zM271.4 1605.7h11.5v2.35h-11.5zM273.7 1608h9.2v2.35h-9.2zM276 1610.3h4.6v2.35h-4.6zM276 1612.6h4.6v2.35h-4.6z" fill="#00ffff" shape-rendering="crispEdges"/>
<path d="M347.9 1662h2.3v2.35h-2.3zM338.7 1664.3h2.3v2.35h-2.3zM345.6 1664.3h6.9v2.35h-6.9zM336.4 1666.6h20.7v2.35h-20.7zM336.4 1668.9h23v2.35h-23zM336.4 1671.2h25.3v2.35h-25.3zM336.4 1673.5h25.3v2.35h-25.3zM338.7 1675.8h20.7v2.35h-20.7zM341 1678.1h16.1v2.35h-16.1zM345.6 1680.4h6.9v2.35h-6.9zM347.9 1682.7h4.6v2.35h-4.6zM347.9 1685h2.3v2.35h-2.3z" fill="#00ff00" shape-rendering="crispEdges"/>
<path d="M369.5 1636.9h2.3v2.35h-2.3zM362.6 1639.2h2.3v2.35h-2.3zM369.5 1639.2h4.6v2.35h-4.6zM360.3 1641.5h6.9v2.35h-6.9zM369.5 1641.5h6.9v2.35h-6.9zM360.3 1643.8h23v2.35h-23zM360.3 1646.1h23v2.35h-23zM360.3 1648.4h23v2.35h-23zM360.3 1650.7h4.6v2.35h-4.6zM367.2 1650.7h16.1v2.35h-16.1zM364.9 1653h16.1v2.35h-16.1zM367.2 1655.3h4.6v2.35h-4.6z" fill="#ffff00" shape-rendering="crispEdges"/>
<path d="M438.4 1569.8h6.9v2.35h-6.9zM452.2 1569.8h6.9v2.35h-6.9zM438.4 1572.1h6.9v2.35h-6.9zM452.2 1572.1h6.9v2.35h-6.9zM436.1 1574.4h27.6v2.35h-27.6zM436.1 1576.7h27.6v2.35h-27.6zM436.1 1579h27.6v2.35h-27.6zM436.1 1581.3h27.6v2.35h-27.6zM436.1 1583.6h27.6v2.35h-27.6zM436.1 1585.9h27.6v2.35h-27.6zM438.4 1588.2h25.3v2.35h-25.3zM438.4 1590.5h25.3v2.35h-25.3zM438.4 1592.8h13.8v2.35h-13.8zM456.8 1592.8h6.9v2.35h-6.9zM438.4 1595.1h11.5v2.35h-11.5zM438.4 1597.4h11.5v2.35h-11.5z" fill="#ff00ff" shape-rendering="crispEdges"/>
<path d="M457.9 1610h6.9v2.35h-6.9zM469.4 1610h6.9v2.35h-6.9zM455.6 1612.3h23v2.35h-23zM455.6 1614.6h23v2.35h-23zM455.6 1616.9h23v2.35h-23zM455.6 1619.2h23v2.35h-23zM455.6 1621.5h23v2.35h-23zM455.6 1623.8h23v2.35h-23zM455.6 1626.1h20.7v2.35h-20.7zM455.6 1628.4h4.6v2.35h-4.6zM464.8 1628.4h11.5v2.35h-11.5zM455.6 1630.7h4.6v2.35h-4.6zM464.8 1630.7h11.5v2.35h-11.5zM467.1 1633h9.2v2.35h-9.2z" fill="#00ffff" shape-rendering="crispEdges"/>
<path d="M518.7 1665.1h6.9v2.35h-6.9zM530.2 1665.1h11.5v2.35h-11.5zM518.7 1667.4h25.3v2.35h-25.3zM518.7 1669.7h25.3v2.35h-25.3zM518.7 1672h25.3v2.35h-25.3zM518.7 1674.3h25.3v2.35h-25.3zM518.7 1676.6h25.3v2.35h-25.3zM518.7 1678.9h25.3v2.35h-25.3zM521 1681.2h23v2.35h-23zM521 1683.5h6.9v2.35h-6.9zM530.2 1683.5h11.5v2.35h-11.5zM521 1685.8h6.9v2.35h-6.9zM530.2 1685.8h11.5v2.35h-11.5zM525.6 1688.1h2.3v2.35h-2.3zM534.8 1688.1h2.3v2.35h-2.3z" fill="#00ff00" shape-rendering="crispEdges"/>
<path d="M560.6 1642.6h4.6v2.35h-4.6zM549.1 1644.9h4.6v2.35h-4.6zM558.3 1644.9h9.2v2.35h-9.2zM546.8 1647.2h23v2.35h-23zM546.8 1649.5h23v2.35h-23zM546.8 1651.8h23v2.35h-23zM549.1 1654.1h18.4v2.35h-18.4zM549.1 1656.4h16.1v2.35h-16.1zM549.1 1658.7h6.9v2.35h-6.9zM558.3 1658.7h4.6v2.35h-4.6zM551.4 1661h2.3v2.35h-2.3zM558.3 1661h2.3v2.35h-2.3zM558.3 1663.3h2.3v2.35h-2.3z" fill="#ffff00" shape-rendering="crispEdges"/>
<path d="M570.9 1557.2h4.6v2.35h-4.6zM570.9 1559.5h4.6v2.35h-4.6zM570.9 1561.8h6.9v2.35h-6.9zM564 1564.1h13.8v2.35h-13.8zM559.4 1566.4h23v2.35h-23zM559.4 1568.7h23v2.35h-23zM561.7 1571h20.7v2.35h-20.7zM564 1573.3h20.7v2.35h-20.7zM564 1575.6h2.3v2.35h-2.3zM568.6 1575.6h9.2v2.35h-9.2zM580.1 1575.6h2.3v2.35h-2.3zM570.9 1577.9h4.6v2.35h-4.6zM573.2 1580.2h2.3v2.35h-2.3z" fill="#ff00ff" shape-rendering="crispEdges"/>
<path d="M638.6 1617.4h2.3v2.35h-2.3zM647.8 1617.4h4.6v2.35h-4.6zM634 1619.7h20.7v2.35h-20.7zM634 1622h20.7v2.35h-20.7zM631.7 1624.3h23v2.35h-23zM631.7 1626.6h23v2.35h-23zM634 1628.9h11.5v2.35h-11.5zM647.8 1628.9h6.9v2.35h-6.9zM634 1631.2h11.5v2.35h-11.5zM647.8 1631.2h4.6v2.35h-4.6zM636.3 1633.5h9.2v2.35h-9.2zM647.8 1633.5h4.6v2.35h-4.6zM636.3 1635.8h4.6v2.35h-4.6zM636.3 1638.1h2.3v2.35h-2.3z" fill="#00ffff" shape-rendering="crispEdges"/>
<path d="M642.7 1665.1h4.6v2.35h-4.6zM654.2 1665.1h4.6v2.35h-4.6zM640.4 1667.4h6.9v2.35h-6.9zM651.9 1667.4h9.2v2.35h-9.2zM635.8 1669.7h13.8v2.35h-13.8zM651.9 1669.7h9.2v2.35h-9.2zM635.8 1672h25.3v2.35h-25.3zM635.8 1674.3h25.3v2.35h-25.3zM635.8 1676.6h25.3v2.35h-25.3zM638.1 1678.9h13.8v2.35h-13.8zM654.2 1678.9h6.9v2.35h-6.9zM640.4 1681.2h11.5v2.35h-11.5zM642.7 1683.5h9.2v2.35h-9.2zM645 1685.8h4.6v2.35h-4.6zM645 1688.1h4.6v2.35h-4.6z" fill="#00ff00" shape-rendering="crispEdges"/>
<path d="M676 1645.2h4.6v2.35h-4.6zM687.5 1645.2h2.3v2.35h-2.3zM673.7 1647.5h20.7v2.35h-20.7zM673.7 1649.8h20.7v2.35h-20.7zM673.7 1652.1h23v2.35h-23zM673.7 1654.4h23v2.35h-23zM673.7 1656.7h6.9v2.35h-6.9zM682.9 1656.7h11.5v2.35h-11.5zM676 1659h4.6v2.35h-4.6zM682.9 1659h11.5v2.35h-11.5zM676 1661.3h4.6v2.35h-4.6zM682.9 1661.3h9.2v2.35h-9.2zM687.5 1663.6h4.6v2.35h-4.6zM689.8 1665.9h2.3v2.35h-2.3z" fill="#ffff00" shape-rendering="crispEdges"/>
<path d="M27.1 1930.2h6.9v2.35h-6.9zM38.6 1930.2h6.9v2.35h-6.9zM27.1 1932.5h6.9v2.35h-6.9zM38.6 1932.5h6.9v2.35h-6.9zM24.8 1934.8h23v2.35h-23zM24.8 1937.1h23v2.35h-23zM24.8 1939.4h23v2.35h-23zM24.8 1941.7h23v2.35h-23zM24.8 1944h23v2.35h-23zM24.8 1946.3h23v2.35h-23zM27.1 1948.6h20.7v2.35h-20.7zM27.1 1950.9h20.7v2.35h-20.7zM27.1 1953.2h11.5v2.35h-11.5zM40.9 1953.2h6.9v2.35h-6.9zM27.1 1955.5h9.2v2.35h-9.2zM27.1 1957.8h9.2v2.35h-9.2z" fill="#00ffff" shape-rendering="crispEdges"/>
<path d="M35.6 1921.7h6.9v2.35h-6.9zM47.1 1921.7h4.6v2.35h-4.6zM33.3 1924h18.4v2.35h-18.4zM33.3 1926.3h18.4v2.35h-18.4zM33.3 1928.6h18.4v2.35h-18.4zM33.3 1930.9h18.4v2.35h-18.4zM33.3 1933.2h18.4v2.35h-18.4zM33.3 1935.5h16.1v2.35h-16.1zM35.6 1937.8h6.9v2.35h-6.9zM44.8 1937.8h4.6v2.35h-4.6zM37.9 1940.1h2.3v2.35h-2.3zM44.8 1940.1h2.3v2.35h-2.3z" fill="#ff00ff" shape-rendering="crispEdges"/>
<path d="M120.5 1992.2h4.6v2.35h-4.6zM129.7 1992.2h6.9v2.35h-6.9zM120.5 1994.5h18.4v2.35h-18.4zM120.5 1996.8h18.4v2.35h-18.4zM120.5 1999.1h18.4v2.35h-18.4zM120.5 2001.4h18.4v2.35h-18.4zM120.5 2003.7h18.4v2.35h-18.4zM120.5 2006h18.4v2.35h-18.4zM122.8 2008.3h16.1v2.35h-16.1zM122.8 2010.6h4.6v2.35h-4.6zM129.7 2010.6h6.9v2.35h-6.9zM122.8 2012.9h4.6v2.35h-4.6zM129.7 2012.9h6.9v2.35h-6.9zM125.1 2015.2h2.3v2.35h-2.3zM132 2015.2h2.3v2.35h-2.3z" fill="#00ff00" shape-rendering="crispEdges"/>
<path d="M120.5 1978.4h4.6v2.35h-4.6zM129.7 1978.4h4.6v2.35h-4.6zM118.2 1980.7h18.4v2.35h-18.4zM118.2 1983h18.4v2.35h-18.4zM118.2 1985.3h18.4v2.35h-18.4zM118.2 1987.6h18.4v2.35h-18.4zM118.2 1989.9h16.1v2.35h-16.1zM118.2 1992.2h4.6v2.35h-4.6zM125.1 1992.2h9.2v2.35h-9.2zM127.4 1994.5h6.9v2.35h-6.9z" fill="#ffff00" shape-rendering="crispEdges"/>
<path d="M218.1 1930.2h6.9v2.35h-6.9zM229.6 1930.2h6.9v2.35h-6.9zM215.8 1932.5h23v2.35h-23zM215.8 1934.8h23v2.35h-23zM215.8 1937.1h23v2.35h-23zM215.8 1939.4h23v2.35h-23zM215.8 1941.7h23v2.35h-23zM215.8 1944h23v2.35h-23zM215.8 1946.3h20.7v2.35h-20.7zM215.8 1948.6h20.7v2.35h-20.7zM215.8 1950.9h4.6v2.35h-4.6zM225 1950.9h11.5v2.35h-11.5zM227.3 1953.2h9.2v2.35h-9.2zM227.3 1955.5h9.2v2.35h-9.2z" fill="#00ffff" shape-rendering="crispEdges"/>
<path d="M233 1918.7h6.9v2.35h-6.9zM228.4 1921h2.3v2.35h-2.3zM233 1921h6.9v2.35h-6.9zM226.1 1923.3h16.1v2.35h-16.1zM226.1 1925.6h18.4v2.35h-18.4zM226.1 1927.9h20.7v2.35h-20.7zM226.1 1930.2h20.7v2.35h-20.7zM228.4 1932.5h16.1v2.35h-16.1zM230.7 1934.8h11.5v2.35h-11.5zM233 1937.1h6.9v2.35h-6.9z" fill="#ff00ff" shape-rendering="crispEdges"/>
<path d="M321.9 1969.9h4.6v2.35h-4.6zM328.8 1969.9h6.9v2.35h-6.9zM321.9 1972.2h18.4v2.35h-18.4zM321.9 1974.5h18.4v2.35h-18.4zM321.9 1976.8h20.7v2.35h-20.7zM321.9 1979.1h20.7v2.35h-20.7zM321.9 1981.4h20.7v2.35h-20.7zM321.9 1983.7h20.7v2.35h-20.7zM321.9 1986h18.4v2.35h-18.4zM321.9 1988.3h16.1v2.35h-16.1zM321.9 1990.6h16.1v2.35h-16.1zM321.9 1992.9h4.6v2.35h-4.6zM328.8 1992.9h6.9v2.35h-6.9z" fill="#ffff00" shape-rendering="crispEdges"/>
<path d="M322.1 1986.9h6.9v2.35h-6.9zM335.9 1986.9h4.6v2.35h-4.6zM319.8 1989.2h20.7v2.35h-20.7zM319.8 1991.5h20.7v2.35h-20.7zM319.8 1993.8h20.7v2.35h-20.7zM319.8 1996.1h20.7v2.35h-20.7zM319.8 1998.4h20.7v2.35h-20.7zM319.8 2000.7h18.4v2.35h-18.4zM322.1 2003h6.9v2.35h-6.9zM333.6 2003h4.6v2.35h-4.6zM322.1 2005.3h6.9v2.35h-6.9zM333.6 2005.3h4.6v2.35h-4.6zM324.4 2007.6h2.3v2.35h-2.3zM333.6 2007.6h2.3v2.35h-2.3z" fill="#00ff00" shape-rendering="crispEdges"/>
<path d="M428.8 1933.2h6.9v2.35h-6.9zM421.9 1935.5h4.6v2.35h-4.6zM428.8 1935.5h6.9v2.35h-6.9zM421.9 1937.8h4.6v2.35h-4.6zM428.8 1937.8h6.9v2.35h-6.9zM419.6 1940.1h18.4v2.35h-18.4zM419.6 1942.4h23v2.35h-23zM419.6 1944.7h25.3v2.35h-25.3zM419.6 1947h25.3v2.35h-25.3zM419.6 1949.3h25.3v2.35h-25.3zM421.9 1951.6h20.7v2.35h-20.7zM426.5 1953.9h11.5v2.35h-11.5zM426.5 1956.2h11.5v2.35h-11.5zM428.8 1958.5h6.9v2.35h-6.9z" fill="#00ffff" shape-rendering="crispEdges"/>
<path d="M430.4 1918.7h4.6v2.35h-4.6zM437.3 1918.7h4.6v2.35h-4.6zM430.4 1921h16.1v2.35h-16.1zM430.4 1923.3h18.4v2.35h-18.4zM430.4 1925.6h18.4v2.35h-18.4zM430.4 1927.9h18.4v2.35h-18.4zM430.4 1930.2h18.4v2.35h-18.4zM430.4 1932.5h16.1v2.35h-16.1zM430.4 1934.8h13.8v2.35h-13.8zM430.4 1937.1h4.6v2.35h-4.6zM437.3 1937.1h4.6v2.35h-4.6z" fill="#ff00ff" shape-rendering="crispEdges"/>
<path d="M549.3 1989.9h4.6v2.35h-4.6zM544.7 1992.2h2.3v2.35h-2.3zM549.3 1992.2h4.6v2.35h-4.6zM542.4 1994.5h13.8v2.35h-13.8zM542.4 1996.8h16.1v2.35h-16.1zM542.4 1999.1h18.4v2.35h-18.4zM542.4 2001.4h18.4v2.35h-18.4zM542.4 2003.7h18.4v2.35h-18.4zM544.7 2006h13.8v2.35h-13.8zM547 2008.3h9.2v2.35h-9.2zM549.3 2010.6h4.6v2.35h-4.6z" fill="#00ff00" shape-rendering="crispEdges"/>
<path d="M544.7 1963.9h4.6v2.35h-4.6zM556.2 1963.9h4.6v2.35h-4.6zM542.4 1966.2h20.7v2.35h-20.7zM542.4 1968.5h20.7v2.35h-20.7zM542.4 1970.8h20.7v2.35h-20.7zM542.4 1973.1h20.7v2.35h-20.7zM542.4 1975.4h20.7v2.35h-20.7zM542.4 1977.7h20.7v2.35h-20.7zM544.7 1980h18.4v2.35h-18.4zM544.7 1982.3h18.4v2.35h-18.4zM544.7 1984.6h11.5v2.35h-11.5zM558.5 1984.6h4.6v2.35h-4.6zM544.7 1986.9h6.9v2.35h-6.9zM544.7 1989.2h6.9v2.35h-6.9z" fill="#ffff00" shape-rendering="crispEdges"/>
<path d="M642 1933.2h4.6v2.35h-4.6zM651.2 1933.2h9.2v2.35h-9.2zM642 1935.5h20.7v2.35h-20.7zM642 1937.8h20.7v2.35h-20.7zM642 1940.1h20.7v2.35h-20.7zM642 1942.4h20.7v2.35h-20.7zM642 1944.7h20.7v2.35h-20.7zM642 1947h20.7v2.35h-20.7zM644.3 1949.3h18.4v2.35h-18.4zM644.3 1951.6h4.6v2.35h-4.6zM651.2 1951.6h9.2v2.35h-9.2zM644.3 1953.9h4.6v2.35h-4.6zM651.2 1953.9h9.2v2.35h-9.2zM646.6 1956.2h2.3v2.35h-2.3zM655.8 1956.2h2.3v2.35h-2.3z" fill="#00ffff" shape-rendering="crispEdges"/>
<path d="M650.8 1907.2h4.6v2.35h-4.6zM657.7 1907.2h4.6v2.35h-4.6zM648.5 1909.5h16.1v2.35h-16.1zM648.5 1911.8h16.1v2.35h-16.1zM648.5 1914.1h16.1v2.35h-16.1zM648.5 1916.4h16.1v2.35h-16.1zM648.5 1918.7h16.1v2.35h-16.1zM648.5 1921h16.1v2.35h-16.1zM648.5 1923.3h13.8v2.35h-13.8zM648.5 1925.6h4.6v2.35h-4.6zM655.4 1925.6h6.9v2.35h-6.9zM648.5 1927.9h4.6v2.35h-4.6zM655.4 1927.9h6.9v2.35h-6.9zM655.4 1930.2h6.9v2.35h-6.9z" fill="#ff00ff" shape-rendering="crispEdges"/>
<path d="M41.8 2311.5h4.6v2.35h-4.6zM48.7 2311.5h4.6v2.35h-4.6zM41.8 2313.8h16.1v2.35h-16.1zM41.8 2316.1h18.4v2.35h-18.4zM41.8 2318.4h18.4v2.35h-18.4zM41.8 2320.7h18.4v2.35h-18.4zM41.8 2323h18.4v2.35h-18.4zM41.8 2325.3h16.1v2.35h-16.1zM41.8 2327.6h13.8v2.35h-13.8zM41.8 2329.9h4.6v2.35h-4.6zM48.7 2329.9h4.6v2.35h-4.6z" fill="#00ff00" shape-rendering="crispEdges"/>
<path d="M41.8 2294.7h4.6v2.35h-4.6zM51 2294.7h6.9v2.35h-6.9zM41.8 2297h18.4v2.35h-18.4zM41.8 2299.3h18.4v2.35h-18.4zM41.8 2301.6h18.4v2.35h-18.4zM41.8 2303.9h18.4v2.35h-18.4zM41.8 2306.2h18.4v2.35h-18.4zM44.1 2308.5h16.1v2.35h-16.1zM44.1 2310.8h4.6v2.35h-4.6zM51 2310.8h6.9v2.35h-6.9zM44.1 2313.1h4.6v2.35h-4.6zM51 2313.1h6.9v2.35h-6.9zM46.4 2315.4h2.3v2.35h-2.3zM53.3 2315.4h2.3v2.35h-2.3z" fill="#ffff00" shape-rendering="crispEdges"/>
<path d="M144.2 2268.6h6.9v2.35h-6.9zM153.4 2268.6h4.6v2.35h-4.6zM139.6 2270.9h18.4v2.35h-18.4zM139.6 2273.2h18.4v2.35h-18.4zM137.3 2275.5h20.7v2.35h-20.7zM137.3 2277.8h20.7v2.35h-20.7zM137.3 2280.1h20.7v2.35h-20.7zM137.3 2282.4h20.7v2.35h-20.7zM139.6 2284.7h18.4v2.35h-18.4zM141.9 2287h16.1v2.35h-16.1zM141.9 2289.3h16.1v2.35h-16.1zM144.2 2291.6h6.9v2.35h-6.9zM153.4 2291.6h4.6v2.35h-4.6z" fill="#00ffff" shape-rendering="crispEdges"/>
<path d="M143.5 2243.3h4.6v2.35h-4.6zM152.7 2243.3h4.6v2.35h-4.6zM141.2 2245.6h18.4v2.35h-18.4zM141.2 2247.9h18.4v2.35h-18.4zM141.2 2250.2h18.4v2.35h-18.4zM141.2 2252.5h18.4v2.35h-18.4zM141.2 2254.8h18.4v2.35h-18.4zM141.2 2257.1h18.4v2.35h-18.4zM143.5 2259.4h16.1v2.35h-16.1zM143.5 2261.7h9.2v2.35h-9.2zM155 2261.7h4.6v2.35h-4.6zM143.5 2264h9.2v2.35h-9.2zM155 2264h4.6v2.35h-4.6zM143.5 2266.3h6.9v2.35h-6.9z" fill="#ff00ff" shape-rendering="crispEdges"/>
<path d="M252.1 2327.6h4.6v2.35h-4.6zM252.1 2329.9h4.6v2.35h-4.6zM259 2329.9h4.6v2.35h-4.6zM247.5 2332.2h18.4v2.35h-18.4zM245.2 2334.5h20.7v2.35h-20.7zM242.9 2336.8h23v2.35h-23zM242.9 2339.1h23v2.35h-23zM242.9 2341.4h23v2.35h-23zM245.2 2343.7h18.4v2.35h-18.4zM247.5 2346h11.5v2.35h-11.5zM252.1 2348.3h4.6v2.35h-4.6z" fill="#00ff00" shape-rendering="crispEdges"/>
<path d="M240.6 2303h4.6v2.35h-4.6zM249.8 2303h4.6v2.35h-4.6zM240.6 2305.3h20.7v2.35h-20.7zM240.6 2307.6h20.7v2.35h-20.7zM240.6 2309.9h23v2.35h-23zM240.6 2312.2h23v2.35h-23zM240.6 2314.5h23v2.35h-23zM240.6 2316.8h23v2.35h-23zM240.6 2319.1h20.7v2.35h-20.7zM240.6 2321.4h16.1v2.35h-16.1zM240.6 2323.7h16.1v2.35h-16.1zM240.6 2326h4.6v2.35h-4.6zM249.8 2326h4.6v2.35h-4.6z" fill="#ffff00" shape-rendering="crispEdges"/>
<path d="M335.2 2274.8h2.3v2.35h-2.3zM335.2 2277.1h2.3v2.35h-2.3zM330.6 2279.4h13.8v2.35h-13.8zM328.3 2281.7h20.7v2.35h-20.7zM328.3 2284h20.7v2.35h-20.7zM328.3 2286.3h20.7v2.35h-20.7zM328.3 2288.6h18.4v2.35h-18.4zM328.3 2290.9h11.5v2.35h-11.5zM342.1 2290.9h2.3v2.35h-2.3zM335.2 2293.2h2.3v2.35h-2.3zM335.2 2295.5h2.3v2.35h-2.3z" fill="#00ffff" shape-rendering="crispEdges"/>
<path d="M330.2 2249.5h4.6v2.35h-4.6zM341.7 2249.5h4.6v2.35h-4.6zM327.9 2251.8h20.7v2.35h-20.7zM327.9 2254.1h20.7v2.35h-20.7zM327.9 2256.4h20.7v2.35h-20.7zM327.9 2258.7h20.7v2.35h-20.7zM327.9 2261h20.7v2.35h-20.7zM327.9 2263.3h20.7v2.35h-20.7zM327.9 2265.6h18.4v2.35h-18.4zM327.9 2267.9h18.4v2.35h-18.4zM327.9 2270.2h4.6v2.35h-4.6zM334.8 2270.2h11.5v2.35h-11.5zM337.1 2272.5h9.2v2.35h-9.2zM337.1 2274.8h9.2v2.35h-9.2z" fill="#ff00ff" shape-rendering="crispEdges"/>
<path d="M421.6 2326.4h4.6v2.35h-4.6zM433.1 2326.4h4.6v2.35h-4.6zM419.3 2328.7h20.7v2.35h-20.7zM419.3 2331h20.7v2.35h-20.7zM419.3 2333.3h20.7v2.35h-20.7zM419.3 2335.6h20.7v2.35h-20.7zM419.3 2337.9h20.7v2.35h-20.7zM419.3 2340.2h20.7v2.35h-20.7zM419.3 2342.5h18.4v2.35h-18.4zM419.3 2344.8h4.6v2.35h-4.6zM426.2 2344.8h11.5v2.35h-11.5zM419.3 2347.1h4.6v2.35h-4.6zM426.2 2347.1h11.5v2.35h-11.5zM428.5 2349.4h9.2v2.35h-9.2z" fill="#00ff00" shape-rendering="crispEdges"/>
<path d="M428.5 2308.7h6.9v2.35h-6.9zM423.9 2311h2.3v2.35h-2.3zM428.5 2311h6.9v2.35h-6.9zM421.6 2313.3h16.1v2.35h-16.1zM421.6 2315.6h16.1v2.35h-16.1zM421.6 2317.9h18.4v2.35h-18.4zM421.6 2320.2h20.7v2.35h-20.7zM421.6 2322.5h20.7v2.35h-20.7zM423.9 2324.8h16.1v2.35h-16.1zM423.9 2327.1h16.1v2.35h-16.1zM426.2 2329.4h11.5v2.35h-11.5zM428.5 2331.7h6.9v2.35h-6.9z" fill="#ffff00" shape-rendering="crispEdges"/>
<path d="M506.6 2271.8h6.9v2.35h-6.9zM515.8 2271.8h4.6v2.35h-4.6zM502 2274.1h18.4v2.35h-18.4zM499.7 2276.4h20.7v2.35h-20.7zM499.7 2278.7h20.7v2.35h-20.7zM499.7 2281h20.7v2.35h-20.7zM499.7 2283.3h20.7v2.35h-20.7zM502 2285.6h18.4v2.35h-18.4zM504.3 2287.9h16.1v2.35h-16.1zM504.3 2290.2h16.1v2.35h-16.1zM506.6 2292.5h6.9v2.35h-6.9zM515.8 2292.5h4.6v2.35h-4.6z" fill="#00ffff" shape-rendering="crispEdges"/>
<path d="M500.4 2254.8h4.6v2.35h-4.6zM511.9 2254.8h4.6v2.35h-4.6zM498.1 2257.1h20.7v2.35h-20.7zM498.1 2259.4h20.7v2.35h-20.7zM498.1 2261.7h20.7v2.35h-20.7zM498.1 2264h20.7v2.35h-20.7zM498.1 2266.3h20.7v2.35h-20.7zM498.1 2268.6h20.7v2.35h-20.7zM498.1 2270.9h18.4v2.35h-18.4zM498.1 2273.2h4.6v2.35h-4.6zM505 2273.2h11.5v2.35h-11.5zM498.1 2275.5h4.6v2.35h-4.6zM505 2275.5h11.5v2.35h-11.5zM507.3 2277.8h9.2v2.35h-9.2z" fill="#ff00ff" shape-rendering="crispEdges"/>
<path d="M595.7 2334.5h6.9v2.35h-6.9zM591.1 2336.8h2.3v2.35h-2.3zM595.7 2336.8h6.9v2.35h-6.9zM588.8 2339.1h16.1v2.35h-16.1zM588.8 2341.4h16.1v2.35h-16.1zM588.8 2343.7h18.4v2.35h-18.4zM588.8 2346h20.7v2.35h-20.7zM588.8 2348.3h20.7v2.35h-20.7zM591.1 2350.6h16.1v2.35h-16.1zM591.1 2352.9h16.1v2.35h-16.1zM593.4 2355.2h11.5v2.35h-11.5zM595.7 2357.5h6.9v2.35h-6.9z" fill="#00ff00" shape-rendering="crispEdges"/>
<path d="M592.9 2314.5h4.6v2.35h-4.6zM599.8 2314.5h6.9v2.35h-6.9zM592.9 2316.8h18.4v2.35h-18.4zM592.9 2319.1h18.4v2.35h-18.4zM592.9 2321.4h20.7v2.35h-20.7zM592.9 2323.7h20.7v2.35h-20.7zM592.9 2326h20.7v2.35h-20.7zM592.9 2328.3h20.7v2.35h-20.7zM592.9 2330.6h18.4v2.35h-18.4zM592.9 2332.9h16.1v2.35h-16.1zM592.9 2335.2h16.1v2.35h-16.1zM592.9 2337.5h4.6v2.35h-4.6zM599.8 2337.5h6.9v2.35h-6.9z" fill="#ffff00" shape-rendering="crispEdges"/>
<path d="M682.5 2281h4.6v2.35h-4.6zM694 2281h4.6v2.35h-4.6zM680.2 2283.3h20.7v2.35h-20.7zM680.2 2285.6h20.7v2.35h-20.7zM680.2 2287.9h20.7v2.35h-20.7zM680.2 2290.2h20.7v2.35h-20.7zM680.2 2292.5h20.7v2.35h-20.7zM680.2 2294.8h20.7v2.35h-20.7zM680.2 2297.1h18.4v2.35h-18.4zM680.2 2299.4h4.6v2.35h-4.6zM687.1 2299.4h11.5v2.35h-11.5zM680.2 2301.7h4.6v2.35h-4.6zM687.1 2301.7h11.5v2.35h-11.5zM689.4 2304h9.2v2.35h-9.2z" fill="#00ffff" shape-rendering="crispEdges"/>
<path d="M684.8 2260.3h6.9v2.35h-6.9zM680.2 2262.6h2.3v2.35h-2.3zM684.8 2262.6h6.9v2.35h-6.9zM677.9 2264.9h16.1v2.35h-16.1zM677.9 2267.2h16.1v2.35h-16.1zM677.9 2269.5h18.4v2.35h-18.4zM677.9 2271.8h20.7v2.35h-20.7zM677.9 2274.1h20.7v2.35h-20.7zM680.2 2276.4h16.1v2.35h-16.1zM680.2 2278.7h16.1v2.35h-16.1zM682.5 2281h11.5v2.35h-11.5zM684.8 2283.3h6.9v2.35h-6.9z" fill="#ff00ff" shape-rendering="crispEdges"/>
</svg>
</body></html>
